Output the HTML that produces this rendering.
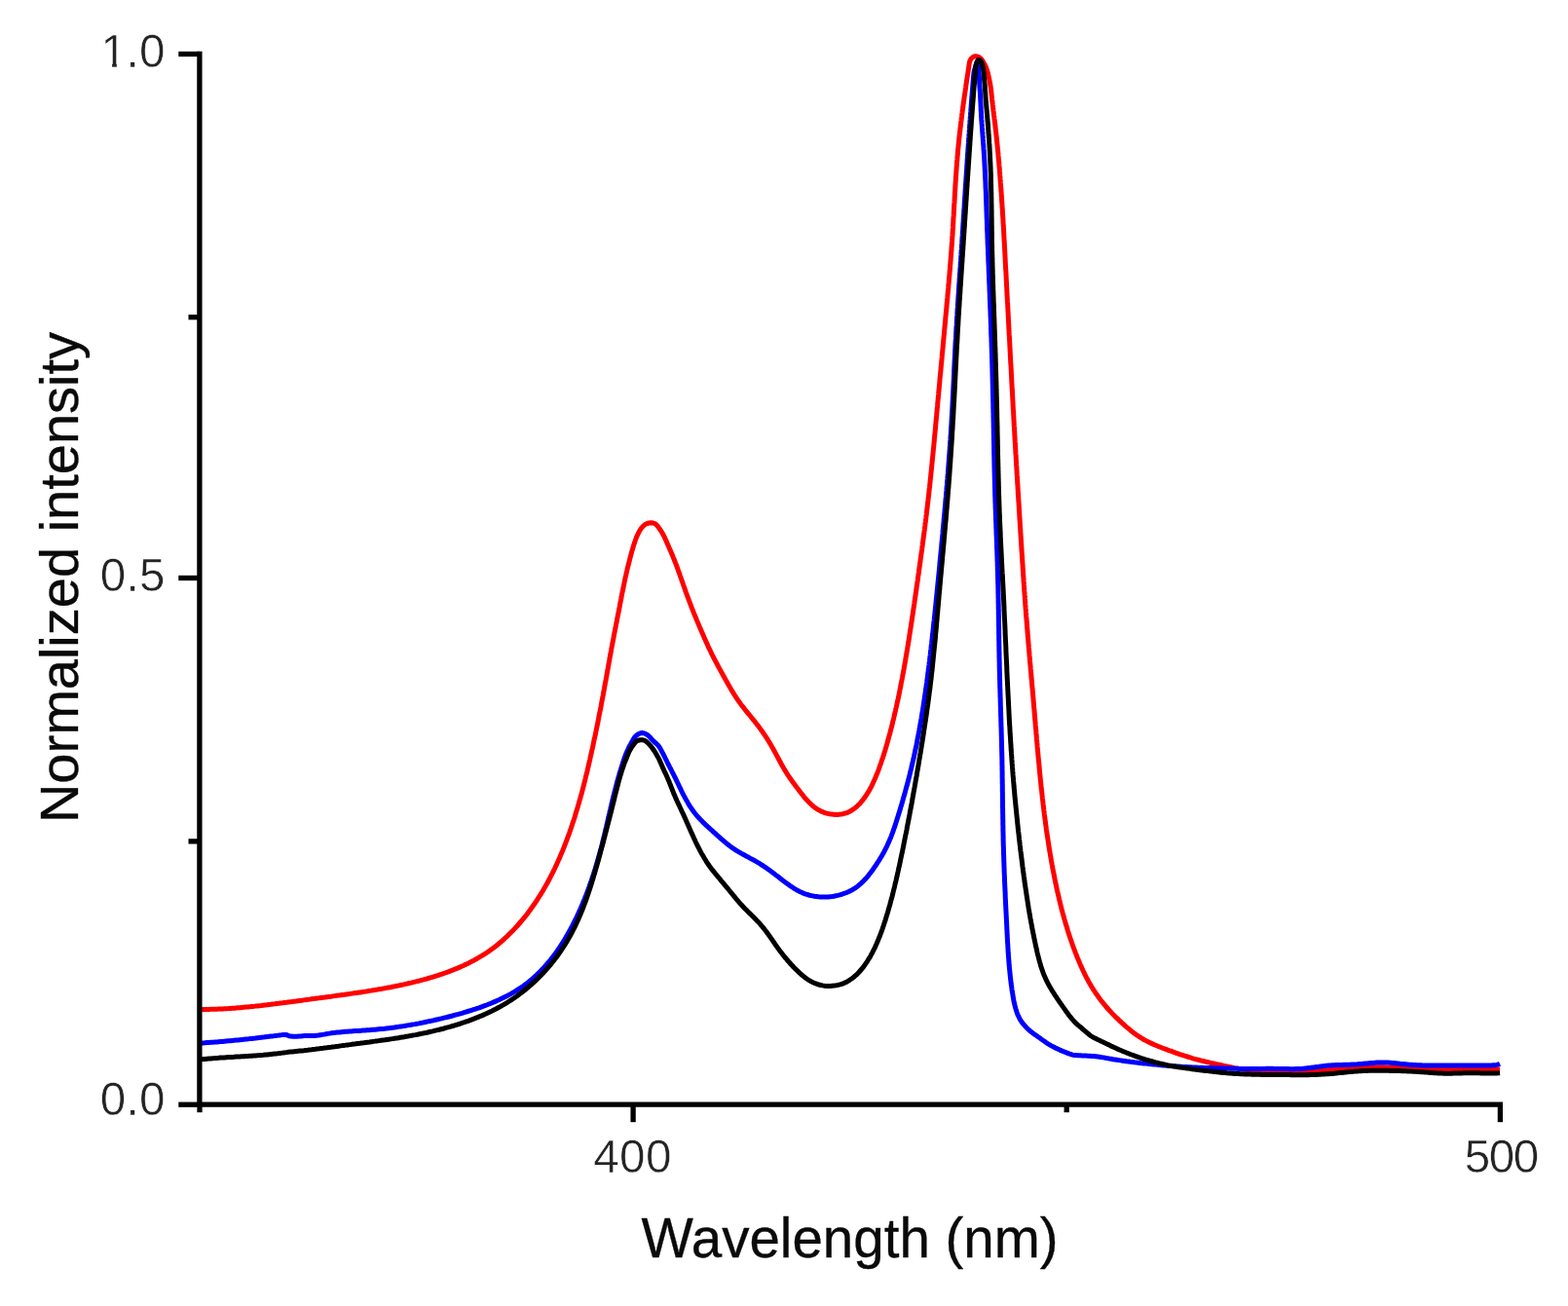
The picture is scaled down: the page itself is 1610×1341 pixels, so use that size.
<!DOCTYPE html>
<html lang="en"><head><meta charset="utf-8"><title>Normalized intensity vs Wavelength</title>
<style>
html,body{margin:0;padding:0;background:#fff;}
body{width:1610px;height:1341px;overflow:hidden;}
svg{display:block;}
text{font-family:"Liberation Sans",sans-serif;}
.tick{font-size:47.6px;fill:#242424;letter-spacing:0.3px;stroke:#fff;stroke-width:0.5px;}
.title{font-size:56.5px;fill:#0a0a0a;stroke:#0a0a0a;stroke-width:0.35px;}
.ax{stroke:#000;stroke-width:5.3;fill:none;stroke-linecap:butt;}
.c{fill:none;stroke-width:5.0;stroke-linejoin:round;stroke-linecap:butt;}
</style></head><body>
<svg width="1610" height="1341" viewBox="0 0 1610 1341">
<rect width="1610" height="1341" fill="#fff"/>
<g>
<g>
<path class="c" stroke="#ff0000" d="M206.5,1036.4 L208.5,1036.4 L210.5,1036.4 L212.5,1036.4 L214.5,1036.4 L216.5,1036.3 L218.5,1036.3 L220.5,1036.2 L222.5,1036.2 L224.5,1036.1 L226.5,1036.0 L228.5,1035.9 L230.5,1035.8 L232.5,1035.7 L234.5,1035.6 L236.5,1035.4 L238.5,1035.3 L240.5,1035.2 L242.5,1035.0 L244.5,1034.8 L246.4,1034.7 L248.4,1034.5 L250.4,1034.3 L252.4,1034.1 L254.4,1034.0 L256.4,1033.8 L258.4,1033.6 L260.4,1033.4 L262.4,1033.1 L264.4,1032.9 L266.4,1032.7 L268.4,1032.5 L270.4,1032.2 L272.3,1032.0 L274.3,1031.8 L276.3,1031.5 L278.3,1031.3 L280.3,1031.0 L282.3,1030.8 L284.2,1030.5 L286.2,1030.3 L288.2,1030.0 L290.2,1029.8 L292.1,1029.5 L294.1,1029.3 L296.1,1029.0 L298.1,1028.7 L300.0,1028.5 L302.0,1028.2 L304.0,1028.0 L306.0,1027.7 L307.9,1027.4 L309.9,1027.2 L311.9,1026.9 L313.9,1026.6 L315.9,1026.4 L317.9,1026.1 L319.8,1025.8 L321.8,1025.6 L323.8,1025.3 L325.8,1025.0 L327.8,1024.8 L329.8,1024.5 L331.8,1024.2 L333.8,1024.0 L335.8,1023.7 L337.8,1023.4 L339.8,1023.2 L341.8,1022.9 L343.8,1022.6 L345.8,1022.3 L347.8,1022.1 L349.8,1021.8 L351.7,1021.5 L353.7,1021.3 L355.7,1021.0 L357.7,1020.7 L359.7,1020.4 L361.6,1020.1 L363.6,1019.8 L365.6,1019.6 L367.5,1019.3 L369.5,1019.0 L371.5,1018.7 L373.4,1018.4 L375.4,1018.1 L377.4,1017.8 L379.3,1017.4 L381.3,1017.1 L383.2,1016.8 L385.2,1016.5 L387.2,1016.1 L389.1,1015.8 L391.1,1015.5 L393.0,1015.1 L395.0,1014.8 L396.9,1014.4 L398.9,1014.0 L400.8,1013.7 L402.8,1013.3 L404.7,1012.9 L406.7,1012.5 L408.6,1012.1 L410.6,1011.7 L412.5,1011.3 L414.5,1010.9 L416.4,1010.4 L418.4,1010.0 L420.3,1009.5 L422.3,1009.1 L424.2,1008.6 L426.2,1008.1 L428.2,1007.6 L430.1,1007.2 L432.1,1006.6 L434.0,1006.1 L435.9,1005.6 L437.9,1005.1 L439.8,1004.5 L441.8,1003.9 L443.7,1003.4 L445.6,1002.8 L447.6,1002.2 L449.5,1001.6 L451.4,1000.9 L453.3,1000.3 L455.2,999.7 L457.1,999.0 L459.0,998.3 L460.9,997.6 L462.8,996.9 L464.7,996.2 L466.5,995.4 L468.4,994.7 L470.3,993.9 L472.1,993.1 L473.9,992.3 L475.8,991.5 L477.6,990.6 L479.4,989.8 L481.2,988.9 L482.9,988.0 L484.7,987.1 L486.5,986.2 L488.2,985.2 L490.0,984.2 L491.7,983.2 L493.4,982.2 L495.1,981.2 L496.8,980.1 L498.4,979.1 L500.1,978.0 L501.7,976.9 L503.3,975.7 L504.9,974.6 L506.5,973.4 L508.1,972.2 L509.7,971.0 L511.2,969.7 L512.7,968.5 L514.3,967.2 L515.8,965.9 L517.2,964.6 L518.7,963.2 L520.2,961.9 L521.6,960.5 L523.0,959.1 L524.4,957.7 L525.8,956.3 L527.2,954.9 L528.6,953.4 L529.9,952.0 L531.3,950.5 L532.6,949.0 L533.9,947.5 L535.2,946.0 L536.5,944.4 L537.8,942.9 L539.0,941.3 L540.3,939.8 L541.5,938.2 L542.7,936.6 L543.9,935.0 L545.1,933.3 L546.2,931.7 L547.4,930.1 L548.5,928.4 L549.7,926.8 L550.8,925.1 L551.9,923.4 L553.0,921.7 L554.0,920.0 L555.1,918.3 L556.2,916.6 L557.2,914.9 L558.2,913.2 L559.2,911.4 L560.2,909.7 L561.2,908.0 L562.2,906.2 L563.1,904.5 L564.1,902.7 L565.0,900.9 L565.9,899.1 L566.8,897.4 L567.7,895.6 L568.6,893.8 L569.5,892.0 L570.3,890.2 L571.2,888.4 L572.0,886.6 L572.8,884.8 L573.6,882.9 L574.5,881.1 L575.2,879.3 L576.0,877.4 L576.8,875.6 L577.6,873.7 L578.3,871.9 L579.1,870.0 L579.8,868.2 L580.5,866.3 L581.2,864.5 L581.9,862.6 L582.6,860.7 L583.3,858.8 L584.0,857.0 L584.7,855.1 L585.3,853.2 L586.0,851.3 L586.6,849.4 L587.3,847.5 L587.9,845.6 L588.5,843.7 L589.2,841.8 L589.8,839.9 L590.4,838.0 L591.0,836.1 L591.5,834.2 L592.1,832.3 L592.7,830.4 L593.3,828.5 L593.8,826.5 L594.4,824.6 L594.9,822.7 L595.5,820.8 L596.0,818.9 L596.5,816.9 L597.1,815.0 L597.6,813.1 L598.1,811.2 L598.6,809.2 L599.1,807.3 L599.6,805.4 L600.1,803.4 L600.6,801.5 L601.1,799.5 L601.5,797.6 L602.0,795.7 L602.5,793.7 L603.0,791.8 L603.4,789.8 L603.9,787.9 L604.3,785.9 L604.8,784.0 L605.2,782.0 L605.7,780.1 L606.1,778.1 L606.5,776.2 L607.0,774.2 L607.4,772.3 L607.8,770.3 L608.3,768.4 L608.7,766.4 L609.1,764.5 L609.5,762.5 L609.9,760.5 L610.3,758.6 L610.8,756.6 L611.2,754.7 L611.6,752.7 L612.0,750.8 L612.4,748.8 L612.8,746.8 L613.2,744.9 L613.6,742.9 L614.0,740.9 L614.4,739.0 L614.7,737.0 L615.1,735.1 L615.5,733.1 L615.9,731.1 L616.3,729.2 L616.7,727.2 L617.1,725.2 L617.4,723.3 L617.8,721.3 L618.2,719.3 L618.5,717.4 L618.9,715.4 L619.3,713.4 L619.6,711.5 L620.0,709.5 L620.4,707.5 L620.7,705.6 L621.1,703.6 L621.4,701.6 L621.8,699.7 L622.2,697.7 L622.5,695.7 L622.9,693.8 L623.2,691.8 L623.6,689.8 L623.9,687.9 L624.3,685.9 L624.6,683.9 L625.0,682.0 L625.3,680.0 L625.7,678.0 L626.0,676.1 L626.4,674.1 L626.8,672.1 L627.1,670.2 L627.5,668.2 L627.8,666.2 L628.2,664.3 L628.6,662.3 L628.9,660.3 L629.3,658.4 L629.7,656.4 L630.1,654.4 L630.4,652.5 L630.8,650.5 L631.2,648.5 L631.6,646.6 L632.0,644.6 L632.3,642.7 L632.7,640.7 L633.1,638.7 L633.5,636.8 L633.9,634.8 L634.2,632.8 L634.6,630.9 L635.0,628.9 L635.4,627.0 L635.8,625.0 L636.2,623.0 L636.5,621.1 L636.9,619.1 L637.3,617.1 L637.7,615.2 L638.0,613.2 L638.4,611.2 L638.8,609.3 L639.2,607.3 L639.6,605.4 L640.0,603.4 L640.4,601.4 L640.8,599.5 L641.2,597.5 L641.6,595.6 L642.0,593.6 L642.5,591.7 L642.9,589.7 L643.3,587.8 L643.8,585.8 L644.2,583.9 L644.7,581.9 L645.2,580.0 L645.7,578.0 L646.2,576.1 L646.7,574.2 L647.2,572.2 L647.7,570.3 L648.2,568.4 L648.7,566.4 L649.3,564.5 L649.9,562.6 L650.4,560.7 L651.0,558.8 L651.7,556.9 L652.3,555.0 L653.0,553.1 L653.7,551.2 L654.5,549.4 L655.4,547.6 L656.3,545.8 L657.3,544.1 L658.4,542.4 L659.7,540.9 L661.1,539.5 L662.8,538.3 L664.6,537.5 L666.5,536.9 L668.4,536.7 L670.5,537.0 L672.3,537.6 L673.9,538.8 L675.3,540.3 L676.5,541.9 L677.6,543.5 L678.7,545.2 L679.8,546.9 L680.8,548.6 L681.7,550.4 L682.6,552.2 L683.4,554.0 L684.2,555.8 L685.0,557.7 L685.8,559.5 L686.6,561.3 L687.4,563.2 L688.2,565.0 L689.0,566.8 L689.8,568.7 L690.6,570.5 L691.3,572.4 L692.1,574.2 L692.8,576.1 L693.5,577.9 L694.3,579.8 L695.0,581.7 L695.7,583.6 L696.3,585.4 L697.0,587.3 L697.7,589.2 L698.3,591.1 L699.0,593.0 L699.7,594.9 L700.3,596.7 L701.0,598.6 L701.6,600.5 L702.3,602.4 L703.0,604.3 L703.6,606.2 L704.3,608.1 L705.0,610.0 L705.7,611.8 L706.4,613.7 L707.1,615.6 L707.8,617.5 L708.5,619.3 L709.2,621.2 L709.9,623.1 L710.6,624.9 L711.4,626.8 L712.1,628.6 L712.8,630.5 L713.6,632.3 L714.4,634.2 L715.1,636.0 L715.9,637.9 L716.7,639.7 L717.5,641.6 L718.2,643.4 L719.0,645.3 L719.8,647.1 L720.6,648.9 L721.4,650.8 L722.2,652.6 L723.0,654.4 L723.8,656.3 L724.6,658.1 L725.4,659.9 L726.3,661.7 L727.1,663.6 L727.9,665.4 L728.8,667.2 L729.7,669.0 L730.5,670.8 L731.4,672.6 L732.3,674.3 L733.2,676.1 L734.1,677.9 L735.1,679.7 L736.0,681.4 L736.9,683.2 L737.9,685.0 L738.8,686.7 L739.8,688.5 L740.8,690.2 L741.7,692.0 L742.7,693.7 L743.7,695.5 L744.6,697.2 L745.6,699.0 L746.6,700.7 L747.6,702.5 L748.6,704.2 L749.6,705.9 L750.6,707.7 L751.6,709.4 L752.7,711.1 L753.7,712.8 L754.8,714.5 L755.9,716.1 L757.0,717.8 L758.1,719.5 L759.3,721.1 L760.4,722.7 L761.6,724.3 L762.9,725.9 L764.1,727.4 L765.3,729.0 L766.6,730.6 L767.8,732.1 L769.1,733.7 L770.4,735.2 L771.6,736.8 L772.9,738.3 L774.2,739.9 L775.4,741.4 L776.6,743.0 L777.9,744.6 L779.1,746.2 L780.3,747.8 L781.4,749.4 L782.6,751.0 L783.8,752.7 L784.9,754.3 L786.0,756.0 L787.1,757.6 L788.2,759.3 L789.2,761.0 L790.3,762.7 L791.3,764.4 L792.3,766.2 L793.3,767.9 L794.3,769.7 L795.2,771.4 L796.2,773.2 L797.1,775.0 L798.1,776.7 L799.0,778.5 L800.0,780.3 L800.9,782.0 L801.9,783.8 L802.8,785.6 L803.8,787.3 L804.8,789.0 L805.8,790.7 L806.9,792.4 L807.9,794.1 L809.0,795.8 L810.1,797.4 L811.2,799.1 L812.4,800.7 L813.5,802.3 L814.7,803.9 L815.9,805.5 L817.1,807.2 L818.3,808.8 L819.5,810.3 L820.7,811.9 L821.9,813.5 L823.2,815.1 L824.4,816.7 L825.7,818.3 L827.0,819.8 L828.3,821.3 L829.7,822.8 L831.1,824.2 L832.5,825.6 L834.0,827.0 L835.5,828.2 L837.1,829.4 L838.7,830.6 L840.4,831.6 L842.2,832.5 L844.0,833.4 L845.8,834.1 L847.8,834.8 L849.7,835.3 L851.7,835.8 L853.7,836.1 L855.7,836.3 L857.7,836.5 L859.7,836.5 L861.7,836.3 L863.7,836.1 L865.6,835.7 L867.5,835.2 L869.4,834.6 L871.2,833.9 L872.9,833.0 L874.6,832.0 L876.2,830.9 L877.8,829.7 L879.3,828.5 L880.8,827.1 L882.2,825.7 L883.6,824.2 L884.9,822.7 L886.2,821.1 L887.4,819.5 L888.6,817.8 L889.7,816.1 L890.8,814.4 L891.9,812.7 L892.9,811.0 L893.8,809.2 L894.8,807.4 L895.6,805.7 L896.5,803.9 L897.3,802.0 L898.1,800.2 L898.9,798.4 L899.7,796.6 L900.4,794.7 L901.2,792.9 L901.9,791.0 L902.6,789.1 L903.2,787.2 L903.9,785.4 L904.6,783.5 L905.2,781.6 L905.8,779.7 L906.5,777.8 L907.1,775.9 L907.7,774.0 L908.3,772.1 L908.9,770.2 L909.4,768.3 L910.0,766.4 L910.6,764.4 L911.1,762.5 L911.7,760.6 L912.2,758.7 L912.7,756.7 L913.2,754.8 L913.8,752.9 L914.3,750.9 L914.8,749.0 L915.3,747.1 L915.8,745.1 L916.3,743.2 L916.7,741.2 L917.2,739.3 L917.7,737.3 L918.1,735.4 L918.6,733.5 L919.0,731.5 L919.5,729.6 L919.9,727.6 L920.4,725.6 L920.8,723.7 L921.2,721.7 L921.6,719.8 L922.1,717.8 L922.5,715.9 L922.9,713.9 L923.3,712.0 L923.7,710.0 L924.1,708.0 L924.5,706.1 L924.9,704.1 L925.2,702.1 L925.6,700.2 L926.0,698.2 L926.4,696.2 L926.7,694.3 L927.1,692.3 L927.5,690.3 L927.8,688.4 L928.2,686.4 L928.5,684.4 L928.9,682.5 L929.2,680.5 L929.6,678.5 L929.9,676.6 L930.2,674.6 L930.6,672.6 L930.9,670.6 L931.2,668.7 L931.6,666.7 L931.9,664.7 L932.2,662.8 L932.5,660.8 L932.9,658.8 L933.2,656.8 L933.5,654.9 L933.8,652.9 L934.1,650.9 L934.4,648.9 L934.7,647.0 L935.0,645.0 L935.3,643.0 L935.6,641.0 L935.9,639.1 L936.2,637.1 L936.5,635.1 L936.8,633.1 L937.1,631.1 L937.4,629.2 L937.7,627.2 L938.0,625.2 L938.3,623.2 L938.6,621.2 L938.9,619.3 L939.1,617.3 L939.4,615.3 L939.7,613.3 L940.0,611.4 L940.3,609.4 L940.6,607.4 L940.9,605.4 L941.1,603.4 L941.4,601.5 L941.7,599.5 L942.0,597.5 L942.3,595.5 L942.5,593.5 L942.8,591.5 L943.1,589.6 L943.4,587.6 L943.6,585.6 L943.9,583.6 L944.2,581.6 L944.5,579.7 L944.8,577.7 L945.0,575.7 L945.3,573.7 L945.6,571.7 L945.8,569.8 L946.1,567.8 L946.4,565.8 L946.7,563.8 L946.9,561.8 L947.2,559.8 L947.4,557.9 L947.7,555.9 L948.0,553.9 L948.2,551.9 L948.5,549.9 L948.8,548.0 L949.0,546.0 L949.3,544.0 L949.5,542.0 L949.8,540.0 L950.0,538.0 L950.3,536.0 L950.5,534.1 L950.8,532.1 L951.0,530.1 L951.3,528.1 L951.5,526.1 L951.7,524.1 L952.0,522.2 L952.2,520.2 L952.4,518.2 L952.7,516.2 L952.9,514.2 L953.1,512.2 L953.4,510.2 L953.6,508.2 L953.8,506.3 L954.0,504.3 L954.2,502.3 L954.5,500.3 L954.7,498.3 L954.9,496.3 L955.1,494.3 L955.3,492.3 L955.5,490.4 L955.7,488.4 L955.9,486.4 L956.1,484.4 L956.3,482.4 L956.5,480.4 L956.7,478.4 L956.9,476.4 L957.1,474.4 L957.3,472.4 L957.5,470.5 L957.7,468.5 L957.9,466.5 L958.1,464.5 L958.3,462.5 L958.5,460.5 L958.7,458.5 L958.9,456.5 L959.1,454.5 L959.3,452.5 L959.4,450.5 L959.6,448.6 L959.8,446.6 L960.0,444.6 L960.2,442.6 L960.4,440.6 L960.6,438.6 L960.7,436.6 L960.9,434.6 L961.1,432.6 L961.3,430.6 L961.5,428.6 L961.7,426.6 L961.8,424.7 L962.0,422.7 L962.2,420.7 L962.4,418.7 L962.6,416.7 L962.7,414.7 L962.9,412.7 L963.1,410.7 L963.3,408.7 L963.5,406.7 L963.7,404.7 L963.8,402.7 L964.0,400.8 L964.2,398.8 L964.4,396.8 L964.6,394.8 L964.8,392.8 L964.9,390.8 L965.1,388.8 L965.3,386.8 L965.5,384.8 L965.7,382.8 L965.9,380.8 L966.1,378.8 L966.2,376.9 L966.4,374.9 L966.6,372.9 L966.8,370.9 L967.0,368.9 L967.2,366.9 L967.3,364.9 L967.5,362.9 L967.7,360.9 L967.9,358.9 L968.1,356.9 L968.3,355.0 L968.4,353.0 L968.6,351.0 L968.8,349.0 L969.0,347.0 L969.2,345.0 L969.4,343.0 L969.6,341.0 L969.7,339.0 L969.9,337.0 L970.1,335.0 L970.3,333.0 L970.5,331.1 L970.7,329.1 L970.8,327.1 L971.0,325.1 L971.2,323.1 L971.4,321.1 L971.6,319.1 L971.8,317.1 L972.0,315.1 L972.1,313.1 L972.3,311.1 L972.5,309.1 L972.7,307.2 L972.9,305.2 L973.0,303.2 L973.2,301.2 L973.4,299.2 L973.6,297.2 L973.8,295.2 L973.9,293.2 L974.1,291.2 L974.3,289.2 L974.4,287.2 L974.6,285.2 L974.8,283.2 L975.0,281.3 L975.1,279.3 L975.3,277.3 L975.5,275.3 L975.6,273.3 L975.8,271.3 L975.9,269.3 L976.1,267.3 L976.2,265.3 L976.4,263.3 L976.6,261.3 L976.7,259.3 L976.9,257.3 L977.0,255.3 L977.1,253.3 L977.3,251.3 L977.4,249.4 L977.6,247.4 L977.7,245.4 L977.8,243.4 L978.0,241.4 L978.1,239.4 L978.2,237.4 L978.3,235.4 L978.5,233.4 L978.6,231.4 L978.7,229.4 L978.8,227.4 L978.9,225.4 L979.0,223.4 L979.2,221.4 L979.3,219.4 L979.4,217.4 L979.5,215.4 L979.6,213.4 L979.7,211.4 L979.8,209.4 L980.0,207.4 L980.1,205.4 L980.2,203.4 L980.3,201.4 L980.4,199.4 L980.5,197.5 L980.7,195.5 L980.8,193.5 L980.9,191.5 L981.0,189.5 L981.1,187.5 L981.3,185.5 L981.4,183.5 L981.5,181.5 L981.7,179.5 L981.8,177.5 L981.9,175.5 L982.1,173.5 L982.2,171.5 L982.4,169.5 L982.5,167.5 L982.7,165.5 L982.9,163.5 L983.0,161.6 L983.2,159.6 L983.4,157.6 L983.5,155.6 L983.7,153.6 L983.9,151.6 L984.1,149.6 L984.3,147.6 L984.5,145.6 L984.7,143.6 L984.9,141.6 L985.1,139.7 L985.3,137.7 L985.6,135.7 L985.8,133.7 L986.0,131.7 L986.3,129.7 L986.5,127.7 L986.7,125.7 L987.0,123.8 L987.2,121.8 L987.5,119.8 L987.7,117.8 L988.0,115.8 L988.2,113.8 L988.5,111.9 L988.8,109.9 L989.0,107.9 L989.3,105.9 L989.6,103.9 L989.9,102.0 L990.1,100.0 L990.4,98.0 L990.7,96.0 L991.0,94.0 L991.3,92.1 L991.6,90.1 L991.8,88.1 L992.1,86.1 L992.4,84.2 L992.7,82.2 L993.0,80.2 L993.3,78.2 L993.6,76.3 L993.9,74.3 L994.2,72.3 L994.5,70.3 L994.8,68.4 L995.1,66.4 L995.4,64.4 L995.9,62.5 L996.9,60.6 L998.5,59.0 L1000.2,57.9 L1001.9,57.7 L1003.8,58.1 L1005.7,59.0 L1007.3,60.2 L1008.5,61.8 L1009.5,63.5 L1010.5,65.2 L1011.5,67.0 L1012.3,68.8 L1013.0,70.7 L1013.6,72.6 L1014.2,74.5 L1014.7,76.4 L1015.1,78.4 L1015.5,80.3 L1015.9,82.3 L1016.3,84.3 L1016.7,86.2 L1017.0,88.2 L1017.3,90.2 L1017.6,92.2 L1017.8,94.2 L1018.0,96.1 L1018.2,98.1 L1018.4,100.1 L1018.6,102.1 L1018.9,104.1 L1019.1,106.1 L1019.3,108.1 L1019.6,110.1 L1019.8,112.0 L1020.0,114.0 L1020.3,116.0 L1020.5,118.0 L1020.8,120.0 L1021.0,122.0 L1021.3,124.0 L1021.5,125.9 L1021.8,127.9 L1022.0,129.9 L1022.2,131.9 L1022.4,133.9 L1022.7,135.9 L1022.9,137.9 L1023.1,139.8 L1023.3,141.8 L1023.5,143.8 L1023.7,145.8 L1023.9,147.8 L1024.1,149.8 L1024.3,151.8 L1024.5,153.8 L1024.7,155.8 L1024.9,157.8 L1025.0,159.7 L1025.2,161.7 L1025.4,163.7 L1025.6,165.7 L1025.8,167.7 L1025.9,169.7 L1026.1,171.7 L1026.3,173.7 L1026.4,175.7 L1026.6,177.7 L1026.7,179.7 L1026.9,181.7 L1027.0,183.7 L1027.2,185.7 L1027.3,187.7 L1027.5,189.7 L1027.6,191.6 L1027.8,193.6 L1027.9,195.6 L1028.1,197.6 L1028.2,199.6 L1028.3,201.6 L1028.5,203.6 L1028.6,205.6 L1028.7,207.6 L1028.9,209.6 L1029.0,211.6 L1029.1,213.6 L1029.3,215.6 L1029.4,217.6 L1029.5,219.6 L1029.6,221.6 L1029.8,223.6 L1029.9,225.6 L1030.0,227.6 L1030.1,229.6 L1030.2,231.6 L1030.4,233.6 L1030.5,235.6 L1030.6,237.5 L1030.7,239.5 L1030.8,241.5 L1030.9,243.5 L1031.0,245.5 L1031.1,247.5 L1031.3,249.5 L1031.4,251.5 L1031.5,253.5 L1031.6,255.5 L1031.7,257.5 L1031.8,259.5 L1031.9,261.5 L1032.0,263.5 L1032.1,265.5 L1032.2,267.5 L1032.3,269.5 L1032.4,271.5 L1032.5,273.5 L1032.6,275.5 L1032.8,277.5 L1032.9,279.5 L1033.0,281.5 L1033.1,283.5 L1033.2,285.5 L1033.3,287.5 L1033.4,289.5 L1033.5,291.5 L1033.6,293.5 L1033.7,295.5 L1033.8,297.5 L1033.9,299.5 L1034.0,301.5 L1034.1,303.4 L1034.2,305.4 L1034.3,307.4 L1034.4,309.4 L1034.6,311.4 L1034.7,313.4 L1034.8,315.4 L1034.9,317.4 L1035.0,319.4 L1035.1,321.4 L1035.2,323.4 L1035.3,325.4 L1035.4,327.4 L1035.5,329.4 L1035.6,331.4 L1035.7,333.4 L1035.8,335.4 L1035.9,337.4 L1036.0,339.4 L1036.1,341.4 L1036.2,343.4 L1036.4,345.4 L1036.5,347.4 L1036.6,349.4 L1036.7,351.4 L1036.8,353.4 L1036.9,355.4 L1037.0,357.4 L1037.1,359.4 L1037.2,361.4 L1037.3,363.4 L1037.4,365.4 L1037.5,367.4 L1037.6,369.3 L1037.7,371.3 L1037.8,373.3 L1038.0,375.3 L1038.1,377.3 L1038.2,379.3 L1038.3,381.3 L1038.4,383.3 L1038.5,385.3 L1038.6,387.3 L1038.7,389.3 L1038.8,391.3 L1038.9,393.3 L1039.0,395.3 L1039.1,397.3 L1039.2,399.3 L1039.4,401.3 L1039.5,403.3 L1039.6,405.3 L1039.7,407.3 L1039.8,409.3 L1039.9,411.3 L1040.0,413.3 L1040.1,415.3 L1040.2,417.3 L1040.3,419.3 L1040.4,421.3 L1040.6,423.3 L1040.7,425.3 L1040.8,427.3 L1040.9,429.3 L1041.0,431.3 L1041.1,433.3 L1041.2,435.3 L1041.3,437.2 L1041.5,439.2 L1041.6,441.2 L1041.7,443.2 L1041.8,445.2 L1041.9,447.2 L1042.0,449.2 L1042.1,451.2 L1042.2,453.2 L1042.4,455.2 L1042.5,457.2 L1042.6,459.2 L1042.7,461.2 L1042.8,463.2 L1042.9,465.2 L1043.1,467.2 L1043.2,469.2 L1043.3,471.2 L1043.4,473.2 L1043.5,475.2 L1043.6,477.2 L1043.8,479.2 L1043.9,481.2 L1044.0,483.2 L1044.1,485.2 L1044.2,487.2 L1044.4,489.2 L1044.5,491.2 L1044.6,493.1 L1044.7,495.1 L1044.8,497.1 L1045.0,499.1 L1045.1,501.1 L1045.2,503.1 L1045.3,505.1 L1045.4,507.1 L1045.6,509.1 L1045.7,511.1 L1045.8,513.1 L1045.9,515.1 L1046.1,517.1 L1046.2,519.1 L1046.3,521.1 L1046.4,523.1 L1046.5,525.1 L1046.7,527.1 L1046.8,529.1 L1046.9,531.1 L1047.0,533.1 L1047.2,535.1 L1047.3,537.1 L1047.4,539.1 L1047.5,541.1 L1047.7,543.1 L1047.8,545.0 L1047.9,547.0 L1048.0,549.0 L1048.2,551.0 L1048.3,553.0 L1048.4,555.0 L1048.5,557.0 L1048.7,559.0 L1048.8,561.0 L1048.9,563.0 L1049.0,565.0 L1049.2,567.0 L1049.3,569.0 L1049.4,571.0 L1049.6,573.0 L1049.7,575.0 L1049.8,577.0 L1050.0,579.0 L1050.1,581.0 L1050.2,583.0 L1050.3,585.0 L1050.5,587.0 L1050.6,589.0 L1050.7,591.0 L1050.9,593.0 L1051.0,595.0 L1051.1,596.9 L1051.3,598.9 L1051.4,600.9 L1051.6,602.9 L1051.7,604.9 L1051.8,606.9 L1052.0,608.9 L1052.1,610.9 L1052.3,612.9 L1052.4,614.9 L1052.6,616.9 L1052.7,618.9 L1052.8,620.9 L1053.0,622.9 L1053.1,624.9 L1053.3,626.9 L1053.4,628.9 L1053.6,630.9 L1053.7,632.9 L1053.9,634.8 L1054.1,636.8 L1054.2,638.8 L1054.4,640.8 L1054.5,642.8 L1054.7,644.8 L1054.9,646.8 L1055.0,648.8 L1055.2,650.8 L1055.3,652.8 L1055.5,654.8 L1055.7,656.8 L1055.8,658.8 L1056.0,660.8 L1056.2,662.7 L1056.3,664.7 L1056.5,666.7 L1056.7,668.7 L1056.9,670.7 L1057.0,672.7 L1057.2,674.7 L1057.4,676.7 L1057.5,678.7 L1057.7,680.7 L1057.9,682.7 L1058.1,684.7 L1058.2,686.7 L1058.4,688.6 L1058.6,690.6 L1058.8,692.6 L1058.9,694.6 L1059.1,696.6 L1059.3,698.6 L1059.5,700.6 L1059.6,702.6 L1059.8,704.6 L1060.0,706.6 L1060.2,708.6 L1060.3,710.6 L1060.5,712.6 L1060.7,714.5 L1060.9,716.5 L1061.0,718.5 L1061.2,720.5 L1061.4,722.5 L1061.5,724.5 L1061.7,726.5 L1061.9,728.5 L1062.1,730.5 L1062.2,732.5 L1062.4,734.5 L1062.6,736.5 L1062.7,738.5 L1062.9,740.5 L1063.1,742.4 L1063.2,744.4 L1063.4,746.4 L1063.6,748.4 L1063.8,750.4 L1063.9,752.4 L1064.1,754.4 L1064.3,756.4 L1064.4,758.4 L1064.6,760.4 L1064.8,762.4 L1065.0,764.4 L1065.1,766.4 L1065.3,768.4 L1065.5,770.4 L1065.7,772.3 L1065.8,774.3 L1066.0,776.3 L1066.2,778.3 L1066.4,780.3 L1066.6,782.3 L1066.8,784.3 L1067.0,786.3 L1067.1,788.3 L1067.3,790.3 L1067.5,792.3 L1067.7,794.3 L1067.9,796.2 L1068.1,798.2 L1068.3,800.2 L1068.5,802.2 L1068.7,804.2 L1068.9,806.2 L1069.1,808.2 L1069.3,810.2 L1069.6,812.2 L1069.8,814.1 L1070.0,816.1 L1070.2,818.1 L1070.4,820.1 L1070.7,822.1 L1070.9,824.1 L1071.1,826.1 L1071.4,828.0 L1071.6,830.0 L1071.8,832.0 L1072.1,834.0 L1072.3,836.0 L1072.6,838.0 L1072.8,839.9 L1073.1,841.9 L1073.4,843.9 L1073.6,845.9 L1073.9,847.9 L1074.2,849.9 L1074.4,851.8 L1074.7,853.8 L1075.0,855.8 L1075.3,857.8 L1075.6,859.7 L1075.9,861.7 L1076.2,863.7 L1076.5,865.7 L1076.8,867.6 L1077.1,869.6 L1077.4,871.6 L1077.7,873.6 L1078.1,875.5 L1078.4,877.5 L1078.7,879.5 L1079.1,881.4 L1079.4,883.4 L1079.8,885.4 L1080.1,887.4 L1080.5,889.3 L1080.8,891.3 L1081.2,893.3 L1081.6,895.2 L1082.0,897.2 L1082.4,899.1 L1082.7,901.1 L1083.1,903.1 L1083.5,905.0 L1083.9,907.0 L1084.4,908.9 L1084.8,910.9 L1085.2,912.9 L1085.6,914.8 L1086.1,916.8 L1086.5,918.7 L1087.0,920.7 L1087.4,922.6 L1087.9,924.6 L1088.4,926.5 L1088.8,928.5 L1089.3,930.4 L1089.8,932.3 L1090.3,934.3 L1090.8,936.2 L1091.3,938.2 L1091.9,940.1 L1092.4,942.0 L1092.9,943.9 L1093.5,945.9 L1094.0,947.8 L1094.6,949.7 L1095.2,951.6 L1095.8,953.5 L1096.3,955.4 L1096.9,957.4 L1097.6,959.3 L1098.2,961.2 L1098.8,963.1 L1099.5,964.9 L1100.1,966.8 L1100.8,968.7 L1101.4,970.6 L1102.1,972.5 L1102.8,974.4 L1103.5,976.2 L1104.2,978.1 L1105.0,980.0 L1105.7,981.8 L1106.4,983.7 L1107.2,985.5 L1108.0,987.4 L1108.7,989.2 L1109.5,991.0 L1110.4,992.9 L1111.2,994.7 L1112.0,996.5 L1112.9,998.3 L1113.7,1000.1 L1114.6,1001.9 L1115.5,1003.7 L1116.5,1005.4 L1117.4,1007.2 L1118.4,1009.0 L1119.4,1010.7 L1120.4,1012.4 L1121.4,1014.1 L1122.5,1015.8 L1123.6,1017.5 L1124.7,1019.2 L1125.8,1020.8 L1127.0,1022.4 L1128.1,1024.1 L1129.3,1025.7 L1130.5,1027.3 L1131.8,1028.8 L1133.0,1030.4 L1134.3,1031.9 L1135.6,1033.5 L1136.9,1035.0 L1138.2,1036.5 L1139.6,1038.0 L1140.9,1039.4 L1142.3,1040.9 L1143.7,1042.3 L1145.1,1043.7 L1146.5,1045.2 L1148.0,1046.5 L1149.4,1047.9 L1150.9,1049.3 L1152.3,1050.6 L1153.8,1052.0 L1155.3,1053.3 L1156.8,1054.6 L1158.4,1055.9 L1159.9,1057.2 L1161.4,1058.5 L1163.0,1059.7 L1164.6,1060.9 L1166.2,1062.1 L1167.8,1063.2 L1169.5,1064.3 L1171.2,1065.4 L1172.9,1066.5 L1174.6,1067.5 L1176.3,1068.4 L1178.1,1069.4 L1179.9,1070.2 L1181.7,1071.1 L1183.5,1071.9 L1185.3,1072.7 L1187.2,1073.5 L1189.0,1074.3 L1190.9,1075.0 L1192.8,1075.8 L1194.6,1076.5 L1196.5,1077.2 L1198.4,1077.9 L1200.3,1078.6 L1202.2,1079.2 L1204.0,1079.9 L1205.9,1080.6 L1207.8,1081.3 L1209.7,1081.9 L1211.6,1082.6 L1213.5,1083.2 L1215.4,1083.8 L1217.3,1084.4 L1219.2,1085.0 L1221.1,1085.6 L1223.0,1086.2 L1224.9,1086.8 L1226.8,1087.3 L1228.7,1087.8 L1230.7,1088.3 L1232.6,1088.8 L1234.5,1089.3 L1236.5,1089.8 L1238.4,1090.3 L1240.4,1090.7 L1242.3,1091.2 L1244.3,1091.6 L1246.3,1092.0 L1248.2,1092.5 L1250.2,1092.9 L1252.1,1093.3 L1254.1,1093.7 L1256.1,1094.2 L1258.0,1094.6 L1260.0,1095.0 L1261.9,1095.4 L1263.9,1095.8 L1265.8,1096.2 L1267.8,1096.6 L1269.8,1096.9 L1271.7,1097.3 L1273.7,1097.6 L1275.7,1097.9 L1277.7,1098.2 L1279.6,1098.5 L1281.6,1098.7 L1283.6,1098.9 L1285.6,1099.1 L1287.6,1099.3 L1289.6,1099.4 L1291.6,1099.6 L1293.6,1099.7 L1295.6,1099.8 L1297.6,1099.9 L1299.6,1100.0 L1301.6,1100.1 L1303.6,1100.1 L1305.6,1100.2 L1307.6,1100.3 L1309.6,1100.3 L1311.6,1100.4 L1313.6,1100.5 L1315.6,1100.5 L1317.6,1100.6 L1319.6,1100.6 L1321.6,1100.7 L1323.6,1100.7 L1325.6,1100.7 L1327.6,1100.7 L1329.6,1100.7 L1331.6,1100.7 L1333.6,1100.6 L1335.6,1100.6 L1337.6,1100.5 L1339.5,1100.4 L1341.5,1100.3 L1343.5,1100.2 L1345.5,1100.1 L1347.5,1100.0 L1349.5,1099.8 L1351.5,1099.7 L1353.5,1099.5 L1355.5,1099.4 L1357.5,1099.2 L1359.5,1099.0 L1361.5,1098.9 L1363.5,1098.7 L1365.5,1098.5 L1367.5,1098.4 L1369.5,1098.2 L1371.5,1098.1 L1373.5,1097.9 L1375.5,1097.8 L1377.4,1097.7 L1379.4,1097.5 L1381.4,1097.4 L1383.4,1097.3 L1385.4,1097.1 L1387.4,1097.0 L1389.4,1096.9 L1391.4,1096.7 L1393.4,1096.6 L1395.4,1096.5 L1397.4,1096.4 L1399.4,1096.3 L1401.4,1096.2 L1403.4,1096.1 L1405.4,1096.0 L1407.4,1095.9 L1409.4,1095.8 L1411.4,1095.8 L1413.4,1095.8 L1415.4,1095.8 L1417.4,1095.8 L1419.4,1095.8 L1421.4,1095.8 L1423.4,1095.9 L1425.4,1096.0 L1427.4,1096.1 L1429.4,1096.2 L1431.4,1096.3 L1433.4,1096.5 L1435.4,1096.6 L1437.4,1096.7 L1439.3,1096.9 L1441.3,1097.0 L1443.3,1097.2 L1445.3,1097.3 L1447.3,1097.4 L1449.3,1097.5 L1451.3,1097.6 L1453.3,1097.7 L1455.3,1097.8 L1457.3,1097.8 L1459.3,1097.9 L1461.3,1097.9 L1463.3,1098.0 L1465.3,1098.0 L1467.3,1098.0 L1469.3,1098.1 L1471.3,1098.1 L1473.3,1098.1 L1475.3,1098.1 L1477.3,1098.1 L1479.3,1098.1 L1481.3,1098.1 L1483.3,1098.1 L1485.3,1098.1 L1487.3,1098.1 L1489.3,1098.1 L1491.3,1098.1 L1493.3,1098.1 L1495.3,1098.1 L1497.3,1098.1 L1499.3,1098.1 L1501.3,1098.1 L1503.3,1098.1 L1505.3,1098.1 L1507.3,1098.1 L1509.3,1098.1 L1511.3,1098.1 L1513.3,1098.1 L1515.3,1098.1 L1517.3,1098.1 L1519.3,1098.1 L1521.3,1098.1 L1523.3,1098.1 L1525.3,1098.1 L1527.3,1098.1 L1529.3,1098.1 L1531.3,1098.1 L1533.3,1098.1 L1535.3,1098.1 L1537.3,1098.1 L1539.3,1098.1 L1540.0,1098.1"/>
<path class="c" stroke="#0000ff" d="M206.6,1071.0 L208.5,1070.9 L210.5,1070.8 L212.5,1070.6 L214.5,1070.5 L216.5,1070.3 L218.5,1070.2 L220.5,1070.0 L222.5,1069.9 L224.4,1069.7 L226.4,1069.5 L228.4,1069.4 L230.4,1069.2 L232.4,1069.0 L234.4,1068.8 L236.4,1068.7 L238.4,1068.5 L240.4,1068.3 L242.4,1068.1 L244.4,1067.9 L246.4,1067.7 L248.4,1067.5 L250.4,1067.3 L252.3,1067.1 L254.3,1066.9 L256.3,1066.6 L258.3,1066.4 L260.3,1066.2 L262.3,1066.0 L264.3,1065.7 L266.3,1065.5 L268.2,1065.3 L270.2,1065.1 L272.2,1064.8 L274.2,1064.6 L276.1,1064.3 L278.1,1064.1 L280.1,1063.9 L282.0,1063.6 L284.0,1063.4 L286.0,1063.1 L287.9,1062.9 L289.9,1062.6 L291.8,1062.4 L293.6,1062.5 L295.3,1063.0 L296.9,1063.7 L298.8,1064.1 L300.8,1064.3 L302.9,1064.3 L304.9,1064.3 L306.9,1064.1 L308.8,1063.9 L310.8,1063.7 L312.7,1063.5 L314.8,1063.5 L316.9,1063.5 L319.0,1063.5 L321.0,1063.5 L323.1,1063.4 L325.1,1063.2 L327.0,1063.0 L328.9,1062.7 L330.9,1062.4 L332.8,1062.1 L334.7,1061.7 L336.6,1061.4 L338.5,1061.1 L340.5,1060.8 L342.4,1060.6 L344.4,1060.3 L346.4,1060.1 L348.4,1059.9 L350.4,1059.7 L352.4,1059.5 L354.4,1059.3 L356.5,1059.2 L358.5,1059.0 L360.5,1058.9 L362.6,1058.7 L364.6,1058.6 L366.7,1058.5 L368.7,1058.4 L370.7,1058.2 L372.8,1058.1 L374.8,1058.0 L376.8,1057.8 L378.9,1057.7 L380.9,1057.5 L382.9,1057.3 L384.9,1057.2 L386.9,1057.0 L388.9,1056.8 L390.9,1056.6 L392.9,1056.4 L394.9,1056.2 L396.8,1055.9 L398.8,1055.7 L400.8,1055.5 L402.7,1055.2 L404.7,1055.0 L406.6,1054.7 L408.6,1054.4 L410.5,1054.1 L412.5,1053.9 L414.4,1053.6 L416.3,1053.3 L418.3,1052.9 L420.2,1052.6 L422.1,1052.3 L424.1,1051.9 L426.0,1051.6 L427.9,1051.2 L429.9,1050.9 L431.8,1050.5 L433.7,1050.1 L435.6,1049.7 L437.5,1049.3 L439.5,1048.9 L441.4,1048.5 L443.3,1048.1 L445.3,1047.7 L447.2,1047.2 L449.1,1046.8 L451.0,1046.3 L453.0,1045.9 L454.9,1045.4 L456.9,1044.9 L458.8,1044.5 L460.7,1044.0 L462.7,1043.5 L464.6,1043.0 L466.6,1042.4 L468.5,1041.9 L470.5,1041.4 L472.5,1040.8 L474.4,1040.3 L476.4,1039.7 L478.3,1039.1 L480.3,1038.5 L482.2,1037.9 L484.2,1037.3 L486.1,1036.7 L488.1,1036.1 L490.0,1035.4 L491.9,1034.8 L493.8,1034.1 L495.8,1033.4 L497.7,1032.7 L499.6,1032.0 L501.5,1031.2 L503.4,1030.5 L505.2,1029.7 L507.1,1028.9 L509.0,1028.1 L510.8,1027.3 L512.7,1026.5 L514.5,1025.6 L516.3,1024.7 L518.1,1023.8 L519.9,1022.9 L521.7,1022.0 L523.4,1021.1 L525.2,1020.1 L526.9,1019.1 L528.6,1018.1 L530.3,1017.0 L532.0,1016.0 L533.6,1014.9 L535.3,1013.8 L536.9,1012.7 L538.5,1011.5 L540.1,1010.4 L541.6,1009.2 L543.2,1008.0 L544.7,1006.7 L546.2,1005.5 L547.7,1004.2 L549.1,1002.9 L550.6,1001.5 L552.0,1000.2 L553.4,998.8 L554.8,997.4 L556.1,996.0 L557.5,994.6 L558.8,993.2 L560.1,991.7 L561.4,990.2 L562.7,988.7 L564.0,987.2 L565.2,985.7 L566.4,984.1 L567.7,982.6 L568.8,981.0 L570.0,979.4 L571.2,977.8 L572.3,976.2 L573.5,974.5 L574.6,972.9 L575.7,971.2 L576.7,969.6 L577.8,967.9 L578.9,966.2 L579.9,964.5 L580.9,962.8 L581.9,961.0 L582.9,959.3 L583.9,957.5 L584.9,955.8 L585.8,954.0 L586.8,952.3 L587.7,950.5 L588.6,948.7 L589.5,946.9 L590.4,945.1 L591.3,943.3 L592.2,941.5 L593.0,939.7 L593.9,937.9 L594.7,936.0 L595.5,934.2 L596.3,932.4 L597.1,930.5 L597.9,928.7 L598.7,926.8 L599.4,925.0 L600.2,923.1 L600.9,921.3 L601.7,919.4 L602.4,917.5 L603.1,915.7 L603.8,913.8 L604.5,911.9 L605.2,910.0 L605.8,908.1 L606.5,906.2 L607.2,904.3 L607.8,902.4 L608.4,900.5 L609.1,898.6 L609.7,896.7 L610.3,894.8 L610.9,892.9 L611.5,891.0 L612.1,889.1 L612.6,887.2 L613.2,885.2 L613.8,883.3 L614.3,881.4 L614.9,879.5 L615.4,877.5 L615.9,875.6 L616.4,873.7 L617.0,871.8 L617.5,869.8 L618.0,867.9 L618.5,866.0 L618.9,864.0 L619.4,862.1 L619.9,860.2 L620.4,858.2 L620.8,856.3 L621.3,854.4 L621.8,852.4 L622.2,850.5 L622.7,848.6 L623.1,846.6 L623.6,844.7 L624.0,842.8 L624.4,840.8 L624.9,838.9 L625.3,837.0 L625.8,835.0 L626.2,833.1 L626.7,831.1 L627.1,829.2 L627.6,827.3 L628.0,825.3 L628.5,823.4 L629.0,821.4 L629.4,819.5 L629.9,817.6 L630.4,815.6 L630.9,813.7 L631.4,811.7 L631.9,809.8 L632.4,807.8 L632.9,805.9 L633.4,803.9 L633.9,802.0 L634.5,800.0 L635.0,798.1 L635.6,796.2 L636.1,794.2 L636.7,792.3 L637.3,790.4 L637.9,788.5 L638.5,786.6 L639.1,784.7 L639.7,782.8 L640.3,780.9 L640.9,779.0 L641.6,777.2 L642.3,775.3 L643.0,773.5 L643.8,771.6 L644.7,769.8 L645.5,767.9 L646.4,766.1 L647.4,764.4 L648.3,762.7 L649.3,760.9 L650.3,759.1 L651.3,757.4 L652.6,755.9 L654.1,754.7 L655.8,753.6 L657.7,752.8 L659.7,752.6 L661.6,753.0 L663.4,753.8 L665.1,754.9 L666.6,756.2 L668.0,757.6 L669.3,759.1 L670.7,760.6 L672.1,762.0 L673.7,763.3 L675.1,764.7 L676.4,766.2 L677.5,767.8 L678.5,769.6 L679.4,771.3 L680.4,773.1 L681.3,774.9 L682.2,776.7 L683.1,778.5 L684.0,780.3 L684.8,782.0 L685.7,783.8 L686.6,785.6 L687.5,787.4 L688.5,789.2 L689.4,791.0 L690.3,792.8 L691.2,794.5 L692.1,796.3 L693.0,798.1 L693.9,799.9 L694.7,801.7 L695.6,803.5 L696.5,805.3 L697.3,807.1 L698.2,808.9 L699.1,810.7 L699.9,812.5 L700.8,814.3 L701.7,816.1 L702.7,817.9 L703.6,819.6 L704.6,821.4 L705.6,823.1 L706.6,824.9 L707.6,826.6 L708.7,828.3 L709.8,829.9 L710.9,831.6 L712.1,833.2 L713.3,834.8 L714.5,836.3 L715.8,837.9 L717.1,839.3 L718.5,840.8 L719.9,842.2 L721.2,843.7 L722.7,845.1 L724.1,846.5 L725.6,847.8 L727.0,849.2 L728.5,850.5 L730.0,851.9 L731.5,853.2 L733.0,854.6 L734.5,855.9 L736.0,857.3 L737.5,858.6 L739.0,860.0 L740.5,861.3 L742.0,862.6 L743.5,863.9 L745.0,865.2 L746.6,866.4 L748.2,867.7 L749.7,868.9 L751.3,870.1 L752.9,871.2 L754.6,872.3 L756.2,873.4 L757.9,874.4 L759.6,875.4 L761.3,876.4 L763.0,877.3 L764.8,878.3 L766.5,879.2 L768.3,880.1 L770.0,881.1 L771.7,882.0 L773.5,882.9 L775.2,883.9 L776.9,884.9 L778.6,885.9 L780.3,886.9 L781.9,888.0 L783.6,889.0 L785.2,890.1 L786.9,891.3 L788.5,892.4 L790.1,893.6 L791.7,894.8 L793.3,895.9 L794.9,897.1 L796.5,898.4 L798.1,899.6 L799.7,900.8 L801.2,902.0 L802.8,903.3 L804.4,904.5 L806.1,905.7 L807.7,906.9 L809.3,908.1 L810.9,909.3 L812.6,910.4 L814.3,911.5 L816.0,912.6 L817.7,913.6 L819.4,914.6 L821.2,915.5 L823.0,916.3 L824.8,917.1 L826.6,917.8 L828.5,918.4 L830.4,919.0 L832.3,919.5 L834.3,919.9 L836.2,920.3 L838.2,920.5 L840.2,920.8 L842.2,920.9 L844.2,921.0 L846.2,921.0 L848.2,921.0 L850.3,920.9 L852.3,920.7 L854.3,920.5 L856.3,920.2 L858.3,919.8 L860.2,919.4 L862.2,918.9 L864.1,918.3 L866.0,917.7 L867.9,917.0 L869.8,916.3 L871.6,915.5 L873.4,914.6 L875.1,913.7 L876.8,912.6 L878.5,911.6 L880.1,910.4 L881.6,909.2 L883.1,907.9 L884.6,906.6 L886.0,905.2 L887.4,903.8 L888.8,902.3 L890.1,900.8 L891.4,899.3 L892.6,897.7 L893.9,896.1 L895.1,894.5 L896.3,892.9 L897.4,891.2 L898.6,889.6 L899.7,887.9 L900.8,886.2 L901.9,884.5 L903.0,882.8 L904.0,881.1 L905.0,879.4 L906.0,877.7 L907.0,875.9 L908.0,874.2 L908.9,872.4 L909.8,870.6 L910.7,868.8 L911.5,867.0 L912.3,865.2 L913.1,863.4 L913.9,861.6 L914.7,859.7 L915.4,857.9 L916.1,856.0 L916.8,854.1 L917.5,852.2 L918.1,850.3 L918.8,848.5 L919.4,846.6 L920.0,844.6 L920.6,842.7 L921.2,840.8 L921.8,838.9 L922.4,837.0 L923.0,835.1 L923.6,833.2 L924.2,831.3 L924.7,829.3 L925.3,827.4 L925.9,825.5 L926.4,823.6 L927.0,821.7 L927.5,819.7 L928.1,817.8 L928.6,815.9 L929.2,814.0 L929.7,812.0 L930.2,810.1 L930.7,808.2 L931.3,806.3 L931.8,804.3 L932.3,802.4 L932.8,800.5 L933.3,798.5 L933.8,796.6 L934.3,794.6 L934.7,792.7 L935.2,790.8 L935.7,788.8 L936.1,786.9 L936.6,784.9 L937.0,783.0 L937.5,781.0 L937.9,779.1 L938.4,777.1 L938.8,775.2 L939.2,773.2 L939.6,771.3 L940.0,769.3 L940.5,767.4 L940.9,765.4 L941.3,763.5 L941.6,761.5 L942.0,759.5 L942.4,757.6 L942.8,755.6 L943.2,753.6 L943.5,751.7 L943.9,749.7 L944.2,747.7 L944.6,745.8 L944.9,743.8 L945.3,741.8 L945.6,739.9 L946.0,737.9 L946.3,735.9 L946.6,733.9 L947.0,732.0 L947.3,730.0 L947.6,728.0 L947.9,726.0 L948.2,724.1 L948.5,722.1 L948.8,720.1 L949.1,718.1 L949.4,716.2 L949.7,714.2 L950.0,712.2 L950.3,710.2 L950.6,708.2 L950.8,706.3 L951.1,704.3 L951.4,702.3 L951.7,700.3 L951.9,698.3 L952.2,696.4 L952.5,694.4 L952.7,692.4 L953.0,690.4 L953.2,688.4 L953.5,686.4 L953.7,684.5 L954.0,682.5 L954.2,680.5 L954.5,678.5 L954.7,676.5 L954.9,674.5 L955.2,672.5 L955.4,670.6 L955.6,668.6 L955.9,666.6 L956.1,664.6 L956.3,662.6 L956.6,660.6 L956.8,658.6 L957.0,656.7 L957.2,654.7 L957.4,652.7 L957.7,650.7 L957.9,648.7 L958.1,646.7 L958.3,644.7 L958.5,642.7 L958.7,640.8 L958.9,638.8 L959.2,636.8 L959.4,634.8 L959.6,632.8 L959.8,630.8 L960.0,628.8 L960.2,626.8 L960.4,624.8 L960.6,622.9 L960.8,620.9 L961.0,618.9 L961.2,616.9 L961.4,614.9 L961.6,612.9 L961.8,610.9 L962.0,608.9 L962.2,606.9 L962.4,604.9 L962.6,603.0 L962.8,601.0 L963.0,599.0 L963.2,597.0 L963.4,595.0 L963.6,593.0 L963.8,591.0 L964.0,589.0 L964.2,587.0 L964.4,585.0 L964.6,583.0 L964.8,581.1 L964.9,579.1 L965.1,577.1 L965.3,575.1 L965.5,573.1 L965.7,571.1 L965.9,569.1 L966.1,567.1 L966.3,565.1 L966.5,563.1 L966.7,561.1 L966.8,559.2 L967.0,557.2 L967.2,555.2 L967.4,553.2 L967.6,551.2 L967.8,549.2 L968.0,547.2 L968.1,545.2 L968.3,543.2 L968.5,541.2 L968.7,539.2 L968.9,537.2 L969.1,535.3 L969.2,533.3 L969.4,531.3 L969.6,529.3 L969.8,527.3 L970.0,525.3 L970.1,523.3 L970.3,521.3 L970.5,519.3 L970.7,517.3 L970.8,515.3 L971.0,513.3 L971.2,511.3 L971.4,509.4 L971.5,507.4 L971.7,505.4 L971.9,503.4 L972.0,501.4 L972.2,499.4 L972.4,497.4 L972.5,495.4 L972.7,493.4 L972.9,491.4 L973.0,489.4 L973.2,487.4 L973.4,485.4 L973.5,483.5 L973.7,481.5 L973.8,479.5 L974.0,477.5 L974.1,475.5 L974.3,473.5 L974.4,471.5 L974.6,469.5 L974.7,467.5 L974.9,465.5 L975.0,463.5 L975.2,461.5 L975.3,459.5 L975.5,457.5 L975.6,455.5 L975.7,453.5 L975.9,451.5 L976.0,449.6 L976.1,447.6 L976.3,445.6 L976.4,443.6 L976.5,441.6 L976.6,439.6 L976.8,437.6 L976.9,435.6 L977.0,433.6 L977.1,431.6 L977.2,429.6 L977.3,427.6 L977.5,425.6 L977.6,423.6 L977.7,421.6 L977.8,419.6 L977.9,417.6 L978.0,415.6 L978.1,413.6 L978.2,411.6 L978.3,409.6 L978.4,407.6 L978.5,405.6 L978.6,403.6 L978.7,401.6 L978.8,399.6 L978.9,397.6 L979.0,395.6 L979.1,393.6 L979.2,391.6 L979.3,389.6 L979.4,387.6 L979.5,385.6 L979.6,383.6 L979.6,381.6 L979.7,379.6 L979.8,377.6 L979.9,375.6 L980.0,373.7 L980.1,371.7 L980.2,369.7 L980.3,367.7 L980.4,365.7 L980.5,363.7 L980.6,361.7 L980.7,359.7 L980.8,357.7 L980.9,355.7 L981.0,353.7 L981.1,351.7 L981.2,349.7 L981.4,347.7 L981.5,345.7 L981.6,343.7 L981.7,341.7 L981.8,339.7 L981.9,337.7 L982.0,335.7 L982.2,333.7 L982.3,331.7 L982.4,329.7 L982.5,327.7 L982.6,325.7 L982.8,323.7 L982.9,321.7 L983.0,319.7 L983.1,317.7 L983.3,315.7 L983.4,313.8 L983.5,311.8 L983.7,309.8 L983.8,307.8 L983.9,305.8 L984.0,303.8 L984.2,301.8 L984.3,299.8 L984.4,297.8 L984.6,295.8 L984.7,293.8 L984.8,291.8 L985.0,289.8 L985.1,287.8 L985.2,285.8 L985.4,283.8 L985.5,281.8 L985.7,279.8 L985.8,277.9 L985.9,275.9 L986.1,273.9 L986.2,271.9 L986.3,269.9 L986.5,267.9 L986.6,265.9 L986.7,263.9 L986.9,261.9 L987.0,259.9 L987.1,257.9 L987.3,255.9 L987.4,253.9 L987.5,251.9 L987.7,249.9 L987.8,247.9 L987.9,245.9 L988.0,243.9 L988.2,241.9 L988.3,239.9 L988.4,238.0 L988.6,236.0 L988.7,234.0 L988.8,232.0 L988.9,230.0 L989.1,228.0 L989.2,226.0 L989.3,224.0 L989.5,222.0 L989.6,220.0 L989.7,218.0 L989.8,216.0 L990.0,214.0 L990.1,212.0 L990.2,210.0 L990.3,208.0 L990.5,206.0 L990.6,204.0 L990.7,202.0 L990.9,200.0 L991.0,198.0 L991.1,196.0 L991.2,194.0 L991.4,192.1 L991.5,190.1 L991.6,188.1 L991.8,186.1 L991.9,184.1 L992.0,182.1 L992.2,180.1 L992.3,178.1 L992.4,176.1 L992.6,174.1 L992.7,172.1 L992.8,170.1 L993.0,168.1 L993.1,166.1 L993.2,164.1 L993.4,162.1 L993.5,160.1 L993.6,158.1 L993.8,156.1 L993.9,154.1 L994.0,152.1 L994.2,150.1 L994.3,148.2 L994.5,146.2 L994.6,144.2 L994.7,142.2 L994.9,140.2 L995.0,138.2 L995.2,136.2 L995.3,134.2 L995.5,132.2 L995.6,130.2 L995.7,128.2 L995.9,126.2 L996.0,124.2 L996.2,122.2 L996.3,120.2 L996.5,118.2 L996.6,116.2 L996.8,114.2 L996.9,112.2 L997.1,110.3 L997.2,108.3 L997.4,106.3 L997.5,104.3 L997.7,102.3 L997.8,100.3 L998.0,98.3 L998.2,96.3 L998.3,94.3 L998.5,92.3 L998.6,90.3 L998.8,88.3 L998.9,86.3 L999.1,84.3 L999.3,82.3 L999.4,80.3 L999.6,78.3 L999.8,76.4 L1000.0,74.4 L1000.4,72.5 L1001.0,70.6 L1001.6,68.6 L1002.2,66.6 L1002.8,64.6 L1003.6,62.7 L1004.4,61.7 L1004.9,62.4 L1004.9,64.9 L1004.9,67.4 L1005.0,69.1 L1005.1,70.8 L1005.1,72.9 L1005.2,75.0 L1005.3,77.1 L1005.4,79.0 L1005.5,81.0 L1005.6,83.0 L1005.7,85.0 L1005.8,87.0 L1005.9,89.0 L1006.1,91.0 L1006.2,93.0 L1006.4,95.0 L1006.5,97.0 L1006.6,99.0 L1006.7,101.0 L1006.8,103.0 L1006.9,105.0 L1007.0,106.9 L1007.1,108.9 L1007.2,110.9 L1007.2,112.9 L1007.4,114.9 L1007.5,116.9 L1007.6,118.9 L1007.7,120.9 L1007.8,122.9 L1008.0,124.9 L1008.1,126.9 L1008.3,128.9 L1008.4,130.9 L1008.6,132.9 L1008.7,134.9 L1008.9,136.9 L1009.0,138.9 L1009.2,140.9 L1009.3,142.9 L1009.5,144.9 L1009.6,146.9 L1009.8,148.9 L1009.9,150.9 L1010.0,152.9 L1010.2,154.9 L1010.3,156.8 L1010.4,158.8 L1010.6,160.8 L1010.7,162.8 L1010.8,164.8 L1010.9,166.8 L1011.0,168.8 L1011.1,170.8 L1011.2,172.8 L1011.3,174.8 L1011.4,176.8 L1011.5,178.8 L1011.6,180.8 L1011.7,182.8 L1011.8,184.8 L1011.9,186.8 L1012.0,188.8 L1012.0,190.8 L1012.1,192.8 L1012.2,194.8 L1012.3,196.8 L1012.4,198.8 L1012.4,200.8 L1012.5,202.8 L1012.6,204.8 L1012.7,206.8 L1012.7,208.8 L1012.8,210.8 L1012.9,212.8 L1012.9,214.8 L1013.0,216.8 L1013.1,218.8 L1013.1,220.8 L1013.2,222.8 L1013.3,224.8 L1013.4,226.8 L1013.4,228.8 L1013.5,230.8 L1013.6,232.8 L1013.6,234.8 L1013.7,236.8 L1013.8,238.8 L1013.9,240.8 L1013.9,242.8 L1014.0,244.8 L1014.1,246.8 L1014.1,248.8 L1014.2,250.8 L1014.3,252.8 L1014.4,254.8 L1014.5,256.8 L1014.5,258.8 L1014.6,260.8 L1014.7,262.7 L1014.8,264.7 L1014.8,266.7 L1014.9,268.7 L1015.0,270.7 L1015.1,272.7 L1015.2,274.7 L1015.2,276.7 L1015.3,278.7 L1015.4,280.7 L1015.5,282.7 L1015.6,284.7 L1015.6,286.7 L1015.7,288.7 L1015.8,290.7 L1015.9,292.7 L1016.0,294.7 L1016.0,296.7 L1016.1,298.7 L1016.2,300.7 L1016.3,302.7 L1016.3,304.7 L1016.4,306.7 L1016.5,308.7 L1016.6,310.7 L1016.7,312.7 L1016.7,314.7 L1016.8,316.7 L1016.9,318.7 L1017.0,320.7 L1017.0,322.7 L1017.1,324.7 L1017.2,326.7 L1017.3,328.7 L1017.3,330.7 L1017.4,332.7 L1017.5,334.7 L1017.5,336.7 L1017.6,338.7 L1017.7,340.7 L1017.7,342.7 L1017.8,344.7 L1017.9,346.7 L1018.0,348.7 L1018.0,350.7 L1018.1,352.7 L1018.1,354.7 L1018.2,356.7 L1018.3,358.7 L1018.3,360.7 L1018.4,362.7 L1018.5,364.7 L1018.5,366.7 L1018.6,368.7 L1018.6,370.7 L1018.7,372.7 L1018.8,374.7 L1018.8,376.7 L1018.9,378.7 L1018.9,380.7 L1019.0,382.6 L1019.0,384.6 L1019.1,386.6 L1019.1,388.6 L1019.2,390.6 L1019.2,392.6 L1019.3,394.6 L1019.3,396.6 L1019.4,398.6 L1019.4,400.6 L1019.5,402.6 L1019.5,404.6 L1019.6,406.6 L1019.6,408.6 L1019.7,410.6 L1019.7,412.6 L1019.8,414.6 L1019.8,416.6 L1019.8,418.6 L1019.9,420.6 L1019.9,422.6 L1020.0,424.6 L1020.0,426.6 L1020.0,428.6 L1020.1,430.6 L1020.1,432.6 L1020.2,434.6 L1020.2,436.6 L1020.2,438.6 L1020.3,440.6 L1020.3,442.6 L1020.3,444.6 L1020.4,446.6 L1020.4,448.6 L1020.4,450.6 L1020.5,452.6 L1020.5,454.6 L1020.6,456.6 L1020.6,458.6 L1020.6,460.6 L1020.7,462.6 L1020.7,464.6 L1020.7,466.6 L1020.8,468.6 L1020.8,470.6 L1020.9,472.6 L1020.9,474.6 L1020.9,476.6 L1021.0,478.6 L1021.0,480.6 L1021.1,482.6 L1021.1,484.6 L1021.2,486.6 L1021.2,488.6 L1021.3,490.6 L1021.3,492.6 L1021.4,494.6 L1021.4,496.6 L1021.5,498.6 L1021.5,500.6 L1021.6,502.6 L1021.6,504.6 L1021.7,506.6 L1021.7,508.6 L1021.8,510.6 L1021.9,512.6 L1021.9,514.6 L1022.0,516.6 L1022.1,518.6 L1022.1,520.6 L1022.2,522.6 L1022.3,524.6 L1022.3,526.6 L1022.4,528.6 L1022.5,530.6 L1022.5,532.6 L1022.6,534.6 L1022.7,536.6 L1022.8,538.6 L1022.8,540.6 L1022.9,542.6 L1023.0,544.6 L1023.0,546.6 L1023.1,548.6 L1023.2,550.6 L1023.3,552.6 L1023.3,554.6 L1023.4,556.6 L1023.5,558.6 L1023.5,560.6 L1023.6,562.6 L1023.7,564.6 L1023.8,566.6 L1023.8,568.6 L1023.9,570.6 L1024.0,572.6 L1024.0,574.6 L1024.1,576.6 L1024.2,578.6 L1024.2,580.6 L1024.3,582.6 L1024.3,584.6 L1024.4,586.6 L1024.5,588.6 L1024.5,590.6 L1024.6,592.6 L1024.6,594.6 L1024.7,596.6 L1024.7,598.6 L1024.8,600.6 L1024.8,602.6 L1024.9,604.6 L1024.9,606.6 L1024.9,608.6 L1025.0,610.6 L1025.0,612.6 L1025.1,614.6 L1025.1,616.6 L1025.1,618.6 L1025.2,620.6 L1025.2,622.6 L1025.2,624.6 L1025.3,626.6 L1025.3,628.6 L1025.3,630.6 L1025.4,632.6 L1025.4,634.6 L1025.4,636.6 L1025.5,638.6 L1025.5,640.6 L1025.5,642.6 L1025.6,644.6 L1025.6,646.6 L1025.6,648.6 L1025.6,650.6 L1025.7,652.6 L1025.7,654.6 L1025.7,656.6 L1025.8,658.6 L1025.8,660.6 L1025.8,662.6 L1025.9,664.6 L1025.9,666.6 L1025.9,668.6 L1026.0,670.6 L1026.0,672.6 L1026.0,674.6 L1026.1,676.6 L1026.1,678.6 L1026.2,680.6 L1026.2,682.6 L1026.2,684.6 L1026.3,686.6 L1026.3,688.6 L1026.4,690.6 L1026.4,692.6 L1026.5,694.6 L1026.5,696.6 L1026.6,698.5 L1026.6,700.5 L1026.7,702.5 L1026.7,704.5 L1026.8,706.5 L1026.9,708.5 L1026.9,710.5 L1027.0,712.5 L1027.0,714.5 L1027.1,716.5 L1027.2,718.5 L1027.2,720.5 L1027.3,722.5 L1027.3,724.5 L1027.4,726.5 L1027.5,728.5 L1027.5,730.5 L1027.6,732.5 L1027.6,734.5 L1027.7,736.5 L1027.8,738.5 L1027.8,740.5 L1027.9,742.5 L1027.9,744.5 L1028.0,746.5 L1028.1,748.5 L1028.1,750.5 L1028.2,752.5 L1028.2,754.5 L1028.3,756.5 L1028.3,758.5 L1028.4,760.5 L1028.4,762.5 L1028.5,764.5 L1028.5,766.5 L1028.6,768.5 L1028.6,770.5 L1028.7,772.5 L1028.7,774.5 L1028.8,776.5 L1028.8,778.5 L1028.9,780.5 L1028.9,782.5 L1028.9,784.5 L1029.0,786.5 L1029.0,788.5 L1029.0,790.5 L1029.1,792.5 L1029.1,794.5 L1029.1,796.5 L1029.1,798.5 L1029.2,800.5 L1029.2,802.5 L1029.2,804.5 L1029.3,806.5 L1029.3,808.5 L1029.3,810.5 L1029.3,812.5 L1029.4,814.5 L1029.4,816.5 L1029.4,818.5 L1029.4,820.5 L1029.5,822.5 L1029.5,824.5 L1029.5,826.5 L1029.5,828.5 L1029.6,830.5 L1029.6,832.5 L1029.6,834.5 L1029.7,836.5 L1029.7,838.5 L1029.7,840.5 L1029.8,842.5 L1029.8,844.5 L1029.8,846.5 L1029.9,848.5 L1029.9,850.5 L1029.9,852.5 L1030.0,854.5 L1030.0,856.5 L1030.1,858.5 L1030.1,860.5 L1030.1,862.5 L1030.2,864.5 L1030.2,866.5 L1030.3,868.5 L1030.4,870.5 L1030.4,872.5 L1030.5,874.5 L1030.5,876.5 L1030.6,878.5 L1030.7,880.5 L1030.7,882.5 L1030.8,884.5 L1030.9,886.5 L1030.9,888.5 L1031.0,890.5 L1031.1,892.5 L1031.1,894.5 L1031.2,896.5 L1031.3,898.5 L1031.4,900.5 L1031.5,902.5 L1031.5,904.5 L1031.6,906.4 L1031.7,908.4 L1031.8,910.4 L1031.9,912.4 L1032.0,914.4 L1032.1,916.4 L1032.2,918.4 L1032.2,920.4 L1032.3,922.4 L1032.4,924.4 L1032.5,926.4 L1032.6,928.4 L1032.7,930.4 L1032.8,932.4 L1032.9,934.4 L1033.0,936.4 L1033.1,938.4 L1033.2,940.4 L1033.3,942.4 L1033.4,944.4 L1033.5,946.4 L1033.6,948.4 L1033.7,950.4 L1033.8,952.4 L1033.9,954.4 L1034.0,956.4 L1034.1,958.4 L1034.2,960.4 L1034.3,962.4 L1034.4,964.4 L1034.5,966.4 L1034.6,968.3 L1034.8,970.3 L1034.9,972.3 L1035.0,974.3 L1035.1,976.3 L1035.2,978.3 L1035.4,980.3 L1035.5,982.3 L1035.7,984.3 L1035.8,986.3 L1036.0,988.3 L1036.1,990.3 L1036.3,992.3 L1036.5,994.3 L1036.7,996.3 L1036.9,998.2 L1037.1,1000.2 L1037.3,1002.2 L1037.5,1004.2 L1037.7,1006.2 L1038.0,1008.2 L1038.2,1010.2 L1038.5,1012.2 L1038.8,1014.1 L1039.0,1016.1 L1039.3,1018.1 L1039.7,1020.1 L1040.0,1022.1 L1040.3,1024.0 L1040.6,1026.0 L1041.0,1027.9 L1041.4,1029.9 L1041.9,1031.9 L1042.4,1033.8 L1042.9,1035.7 L1043.5,1037.6 L1044.1,1039.5 L1044.8,1041.4 L1045.6,1043.2 L1046.5,1045.0 L1047.4,1046.8 L1048.5,1048.5 L1049.6,1050.1 L1050.9,1051.7 L1052.2,1053.2 L1053.5,1054.7 L1054.9,1056.1 L1056.4,1057.5 L1057.9,1058.8 L1059.5,1060.0 L1061.1,1061.2 L1062.7,1062.4 L1064.4,1063.5 L1066.0,1064.7 L1067.6,1065.8 L1069.2,1067.0 L1070.9,1068.2 L1072.5,1069.3 L1074.1,1070.5 L1075.8,1071.6 L1077.5,1072.6 L1079.2,1073.6 L1081.0,1074.6 L1082.8,1075.5 L1084.6,1076.4 L1086.4,1077.2 L1088.2,1078.1 L1090.0,1078.9 L1091.9,1079.7 L1093.7,1080.4 L1095.6,1081.1 L1097.4,1081.8 L1099.3,1082.5 L1101.2,1083.1 L1103.2,1083.5 L1105.2,1083.6 L1107.2,1083.7 L1109.2,1083.8 L1111.2,1083.9 L1113.2,1084.0 L1115.2,1084.1 L1117.2,1084.2 L1119.2,1084.3 L1121.2,1084.5 L1123.2,1084.6 L1125.2,1084.8 L1127.2,1085.0 L1129.1,1085.3 L1131.1,1085.6 L1133.1,1085.9 L1135.0,1086.3 L1137.0,1086.6 L1139.0,1087.0 L1141.0,1087.3 L1142.9,1087.7 L1144.9,1088.0 L1146.9,1088.3 L1148.8,1088.6 L1150.8,1088.9 L1152.8,1089.2 L1154.8,1089.5 L1156.8,1089.8 L1158.7,1090.0 L1160.7,1090.3 L1162.7,1090.5 L1164.7,1090.8 L1166.7,1091.0 L1168.7,1091.2 L1170.7,1091.5 L1172.6,1091.7 L1174.6,1091.9 L1176.6,1092.1 L1178.6,1092.3 L1180.6,1092.6 L1182.6,1092.8 L1184.6,1093.0 L1186.6,1093.1 L1188.6,1093.3 L1190.5,1093.5 L1192.5,1093.7 L1194.5,1093.9 L1196.5,1094.0 L1198.5,1094.2 L1200.5,1094.4 L1202.5,1094.5 L1204.5,1094.7 L1206.5,1094.8 L1208.5,1095.0 L1210.5,1095.1 L1212.5,1095.2 L1214.5,1095.4 L1216.5,1095.5 L1218.5,1095.6 L1220.5,1095.7 L1222.5,1095.8 L1224.5,1095.9 L1226.5,1096.0 L1228.5,1096.1 L1230.5,1096.2 L1232.5,1096.2 L1234.5,1096.3 L1236.5,1096.4 L1238.4,1096.4 L1240.4,1096.5 L1242.4,1096.6 L1244.4,1096.6 L1246.4,1096.7 L1248.4,1096.7 L1250.4,1096.8 L1252.4,1096.8 L1254.4,1096.9 L1256.4,1097.0 L1258.4,1097.0 L1260.4,1097.1 L1262.4,1097.1 L1264.4,1097.2 L1266.4,1097.2 L1268.4,1097.3 L1270.4,1097.3 L1272.4,1097.4 L1274.4,1097.4 L1276.4,1097.4 L1278.4,1097.4 L1280.4,1097.5 L1282.4,1097.5 L1284.4,1097.5 L1286.4,1097.5 L1288.4,1097.4 L1290.4,1097.4 L1292.4,1097.4 L1294.4,1097.4 L1296.4,1097.4 L1298.4,1097.4 L1300.4,1097.3 L1302.4,1097.3 L1304.4,1097.3 L1306.4,1097.3 L1308.4,1097.4 L1310.4,1097.4 L1312.4,1097.4 L1314.4,1097.5 L1316.4,1097.5 L1318.5,1097.6 L1320.5,1097.6 L1322.5,1097.6 L1324.5,1097.7 L1326.5,1097.7 L1328.5,1097.7 L1330.5,1097.6 L1332.5,1097.6 L1334.5,1097.5 L1336.4,1097.4 L1338.4,1097.2 L1340.4,1097.0 L1342.4,1096.8 L1344.4,1096.6 L1346.3,1096.3 L1348.3,1096.1 L1350.3,1095.8 L1352.2,1095.5 L1354.2,1095.3 L1356.2,1095.0 L1358.1,1094.7 L1360.1,1094.5 L1362.1,1094.3 L1364.0,1094.1 L1366.0,1093.9 L1368.0,1093.8 L1370.0,1093.7 L1371.9,1093.6 L1373.9,1093.5 L1375.9,1093.4 L1377.9,1093.4 L1379.9,1093.3 L1381.9,1093.3 L1383.8,1093.2 L1385.8,1093.2 L1387.8,1093.1 L1389.8,1093.0 L1391.8,1092.9 L1393.8,1092.8 L1395.8,1092.6 L1397.8,1092.5 L1399.8,1092.3 L1401.7,1092.1 L1403.7,1091.9 L1405.7,1091.7 L1407.7,1091.5 L1409.7,1091.4 L1411.7,1091.2 L1413.7,1091.1 L1415.7,1091.0 L1417.6,1090.9 L1419.6,1090.9 L1421.6,1090.9 L1423.6,1091.0 L1425.5,1091.1 L1427.5,1091.2 L1429.5,1091.4 L1431.4,1091.5 L1433.4,1091.7 L1435.4,1091.9 L1437.3,1092.2 L1439.3,1092.4 L1441.3,1092.6 L1443.2,1092.8 L1445.2,1093.0 L1447.1,1093.2 L1449.1,1093.3 L1451.1,1093.5 L1453.0,1093.6 L1455.0,1093.7 L1457.0,1093.8 L1459.0,1093.8 L1460.9,1093.9 L1462.9,1093.9 L1464.9,1094.0 L1466.9,1094.0 L1468.9,1094.0 L1470.8,1094.0 L1472.8,1094.0 L1474.8,1094.0 L1476.8,1094.0 L1478.8,1094.0 L1480.8,1094.0 L1482.8,1093.9 L1484.8,1093.9 L1486.9,1093.9 L1488.9,1093.9 L1490.9,1093.9 L1492.9,1093.9 L1494.9,1093.9 L1496.9,1093.9 L1498.9,1093.9 L1500.9,1093.9 L1502.9,1093.9 L1504.9,1093.9 L1506.9,1093.9 L1508.9,1093.9 L1510.9,1093.9 L1512.9,1093.9 L1514.9,1093.9 L1516.9,1093.9 L1518.9,1093.9 L1520.9,1093.9 L1522.9,1093.9 L1524.9,1093.9 L1526.9,1093.9 L1528.9,1093.9 L1530.9,1093.9 L1532.9,1093.8 L1534.9,1093.7 L1536.9,1093.4 L1538.8,1092.8 L1540.0,1092.2"/>
<path class="c" stroke="#000000" d="M206.4,1087.8 L208.4,1087.6 L210.4,1087.4 L212.4,1087.2 L214.4,1087.0 L216.3,1086.9 L218.3,1086.7 L220.3,1086.6 L222.3,1086.4 L224.3,1086.3 L226.3,1086.1 L228.3,1086.0 L230.3,1085.9 L232.3,1085.7 L234.3,1085.6 L236.3,1085.5 L238.3,1085.4 L240.3,1085.3 L242.3,1085.1 L244.3,1085.0 L246.2,1084.9 L248.2,1084.8 L250.2,1084.7 L252.2,1084.5 L254.2,1084.4 L256.2,1084.3 L258.2,1084.2 L260.2,1084.0 L262.2,1083.9 L264.2,1083.7 L266.2,1083.6 L268.2,1083.4 L270.2,1083.3 L272.2,1083.1 L274.2,1082.9 L276.2,1082.7 L278.2,1082.5 L280.1,1082.3 L282.1,1082.1 L284.1,1081.9 L286.1,1081.6 L288.1,1081.4 L290.1,1081.1 L292.1,1080.9 L294.1,1080.6 L296.0,1080.3 L298.0,1080.1 L300.0,1079.9 L302.0,1079.7 L304.0,1079.5 L306.0,1079.3 L308.0,1079.1 L310.0,1078.9 L312.0,1078.7 L313.9,1078.4 L315.9,1078.2 L317.9,1077.9 L319.9,1077.7 L321.9,1077.4 L323.9,1077.2 L325.8,1076.9 L327.8,1076.7 L329.8,1076.4 L331.8,1076.2 L333.7,1075.9 L335.7,1075.7 L337.7,1075.4 L339.7,1075.2 L341.7,1074.9 L343.6,1074.7 L345.6,1074.4 L347.6,1074.2 L349.6,1073.9 L351.6,1073.6 L353.6,1073.4 L355.6,1073.1 L357.6,1072.9 L359.6,1072.6 L361.6,1072.3 L363.6,1072.1 L365.5,1071.8 L367.5,1071.5 L369.5,1071.3 L371.5,1071.0 L373.5,1070.8 L375.5,1070.5 L377.5,1070.2 L379.4,1070.0 L381.4,1069.7 L383.4,1069.4 L385.4,1069.1 L387.4,1068.9 L389.3,1068.6 L391.3,1068.3 L393.3,1068.0 L395.3,1067.8 L397.2,1067.5 L399.2,1067.2 L401.2,1066.9 L403.2,1066.6 L405.1,1066.3 L407.1,1066.0 L409.1,1065.7 L411.0,1065.3 L413.0,1065.0 L415.0,1064.7 L416.9,1064.3 L418.9,1064.0 L420.8,1063.6 L422.8,1063.3 L424.8,1062.9 L426.7,1062.6 L428.7,1062.2 L430.6,1061.8 L432.6,1061.4 L434.5,1061.0 L436.5,1060.6 L438.4,1060.2 L440.4,1059.7 L442.3,1059.3 L444.3,1058.9 L446.2,1058.4 L448.2,1057.9 L450.1,1057.5 L452.0,1057.0 L454.0,1056.5 L455.9,1056.0 L457.8,1055.4 L459.8,1054.9 L461.7,1054.4 L463.6,1053.8 L465.6,1053.3 L467.5,1052.7 L469.4,1052.1 L471.3,1051.5 L473.2,1050.9 L475.1,1050.2 L477.0,1049.6 L478.9,1048.9 L480.8,1048.3 L482.7,1047.6 L484.6,1046.9 L486.4,1046.2 L488.3,1045.4 L490.2,1044.7 L492.0,1043.9 L493.9,1043.2 L495.7,1042.4 L497.5,1041.6 L499.4,1040.7 L501.2,1039.9 L503.0,1039.0 L504.8,1038.2 L506.6,1037.3 L508.3,1036.4 L510.1,1035.5 L511.9,1034.5 L513.6,1033.6 L515.3,1032.6 L517.1,1031.6 L518.8,1030.6 L520.5,1029.6 L522.2,1028.5 L523.9,1027.4 L525.5,1026.4 L527.2,1025.2 L528.8,1024.1 L530.5,1023.0 L532.1,1021.8 L533.7,1020.6 L535.3,1019.4 L536.8,1018.2 L538.4,1017.0 L540.0,1015.7 L541.5,1014.4 L543.0,1013.1 L544.5,1011.8 L546.0,1010.5 L547.5,1009.2 L549.0,1007.8 L550.4,1006.4 L551.9,1005.0 L553.3,1003.6 L554.7,1002.2 L556.1,1000.8 L557.5,999.3 L558.8,997.8 L560.2,996.4 L561.5,994.9 L562.8,993.3 L564.1,991.8 L565.4,990.3 L566.7,988.7 L567.9,987.2 L569.2,985.6 L570.4,984.0 L571.6,982.4 L572.8,980.8 L573.9,979.1 L575.1,977.5 L576.2,975.9 L577.3,974.2 L578.4,972.5 L579.5,970.8 L580.6,969.1 L581.6,967.4 L582.6,965.7 L583.6,964.0 L584.6,962.3 L585.6,960.5 L586.5,958.8 L587.5,957.0 L588.4,955.2 L589.3,953.5 L590.2,951.7 L591.0,949.9 L591.9,948.1 L592.7,946.3 L593.6,944.5 L594.4,942.6 L595.2,940.8 L595.9,939.0 L596.7,937.1 L597.5,935.3 L598.2,933.4 L598.9,931.6 L599.6,929.7 L600.3,927.8 L601.0,926.0 L601.7,924.1 L602.4,922.2 L603.0,920.3 L603.7,918.4 L604.3,916.5 L605.0,914.6 L605.6,912.7 L606.2,910.8 L606.8,908.9 L607.4,907.0 L608.0,905.1 L608.6,903.1 L609.2,901.2 L609.7,899.3 L610.3,897.4 L610.9,895.4 L611.4,893.5 L612.0,891.6 L612.5,889.7 L613.1,887.7 L613.6,885.8 L614.2,883.9 L614.7,881.9 L615.2,880.0 L615.8,878.1 L616.3,876.2 L616.8,874.2 L617.3,872.3 L617.8,870.4 L618.4,868.4 L618.9,866.5 L619.4,864.6 L619.9,862.7 L620.4,860.7 L620.9,858.8 L621.4,856.9 L621.9,854.9 L622.4,853.0 L622.9,851.1 L623.4,849.1 L623.9,847.2 L624.4,845.3 L624.9,843.3 L625.4,841.4 L625.9,839.5 L626.4,837.5 L626.9,835.6 L627.4,833.7 L627.9,831.7 L628.3,829.8 L628.8,827.8 L629.3,825.9 L629.8,824.0 L630.3,822.0 L630.8,820.1 L631.2,818.1 L631.7,816.2 L632.2,814.2 L632.7,812.3 L633.2,810.3 L633.7,808.4 L634.2,806.5 L634.7,804.5 L635.2,802.6 L635.7,800.7 L636.3,798.7 L636.8,796.8 L637.4,794.9 L638.0,793.0 L638.6,791.1 L639.2,789.2 L639.9,787.3 L640.5,785.4 L641.2,783.5 L641.9,781.7 L642.7,779.8 L643.4,778.0 L644.2,776.1 L644.9,774.3 L645.7,772.4 L646.6,770.6 L647.6,768.9 L648.7,767.2 L649.8,765.6 L651.0,763.9 L652.2,762.3 L653.6,761.0 L655.4,760.2 L657.4,759.8 L659.4,759.7 L661.3,760.1 L663.1,761.0 L664.7,762.3 L666.1,763.7 L667.4,765.2 L668.7,766.7 L669.9,768.3 L671.1,770.0 L672.2,771.6 L673.2,773.3 L674.2,775.0 L675.2,776.8 L676.2,778.5 L677.1,780.3 L677.9,782.2 L678.7,784.0 L679.5,785.8 L680.3,787.7 L681.1,789.5 L681.9,791.3 L682.8,793.1 L683.7,794.9 L684.5,796.7 L685.3,798.6 L686.1,800.4 L686.9,802.2 L687.6,804.1 L688.4,806.0 L689.1,807.8 L689.8,809.7 L690.5,811.6 L691.3,813.4 L692.0,815.3 L692.8,817.1 L693.6,818.9 L694.4,820.8 L695.2,822.6 L696.1,824.4 L696.9,826.2 L697.8,828.0 L698.6,829.8 L699.5,831.7 L700.3,833.5 L701.2,835.3 L702.0,837.1 L702.8,838.9 L703.7,840.7 L704.5,842.6 L705.3,844.4 L706.1,846.2 L706.9,848.0 L707.7,849.9 L708.5,851.7 L709.3,853.5 L710.1,855.4 L711.0,857.2 L711.8,859.0 L712.6,860.8 L713.5,862.6 L714.3,864.5 L715.2,866.3 L716.1,868.1 L716.9,869.8 L717.9,871.6 L718.8,873.4 L719.7,875.1 L720.7,876.9 L721.7,878.6 L722.7,880.3 L723.7,882.0 L724.8,883.7 L725.8,885.4 L726.9,887.0 L728.1,888.7 L729.2,890.3 L730.4,891.9 L731.6,893.5 L732.9,895.0 L734.1,896.6 L735.4,898.1 L736.6,899.7 L737.9,901.2 L739.2,902.7 L740.5,904.3 L741.8,905.8 L743.1,907.3 L744.3,908.9 L745.6,910.4 L746.9,911.9 L748.2,913.5 L749.4,915.0 L750.7,916.6 L752.0,918.1 L753.2,919.7 L754.5,921.2 L755.8,922.8 L757.1,924.3 L758.4,925.8 L759.7,927.3 L761.0,928.8 L762.4,930.3 L763.7,931.7 L765.1,933.2 L766.5,934.6 L767.9,936.0 L769.3,937.4 L770.8,938.8 L772.2,940.2 L773.6,941.6 L775.0,943.0 L776.4,944.5 L777.8,945.9 L779.2,947.4 L780.5,948.8 L781.8,950.3 L783.1,951.8 L784.4,953.4 L785.6,955.0 L786.8,956.5 L788.0,958.2 L789.2,959.8 L790.3,961.4 L791.5,963.1 L792.6,964.7 L793.8,966.4 L794.9,968.0 L796.0,969.7 L797.2,971.3 L798.3,972.9 L799.5,974.6 L800.7,976.2 L801.9,977.8 L803.1,979.3 L804.3,980.9 L805.6,982.5 L806.9,984.0 L808.1,985.5 L809.4,987.0 L810.8,988.5 L812.1,990.0 L813.5,991.5 L814.8,993.0 L816.2,994.4 L817.7,995.8 L819.1,997.2 L820.6,998.6 L822.1,1000.0 L823.6,1001.3 L825.2,1002.6 L826.7,1003.8 L828.3,1005.0 L830.0,1006.1 L831.7,1007.1 L833.4,1008.1 L835.2,1009.0 L836.9,1009.7 L838.8,1010.4 L840.7,1011.0 L842.6,1011.5 L844.5,1011.9 L846.5,1012.2 L848.5,1012.4 L850.5,1012.5 L852.6,1012.5 L854.6,1012.3 L856.6,1012.1 L858.6,1011.8 L860.6,1011.4 L862.5,1010.9 L864.4,1010.3 L866.3,1009.6 L868.1,1008.8 L869.9,1007.9 L871.6,1006.9 L873.2,1005.8 L874.8,1004.7 L876.4,1003.5 L877.9,1002.2 L879.4,1000.9 L880.8,999.5 L882.2,998.0 L883.5,996.5 L884.8,995.0 L886.1,993.4 L887.3,991.8 L888.4,990.2 L889.6,988.5 L890.7,986.8 L891.7,985.1 L892.8,983.4 L893.8,981.7 L894.7,979.9 L895.7,978.2 L896.6,976.4 L897.5,974.6 L898.4,972.8 L899.2,971.0 L900.0,969.2 L900.8,967.3 L901.6,965.5 L902.3,963.6 L903.1,961.8 L903.8,959.9 L904.5,958.1 L905.2,956.2 L905.9,954.3 L906.5,952.4 L907.2,950.5 L907.8,948.6 L908.4,946.7 L909.1,944.8 L909.6,942.9 L910.2,941.0 L910.8,939.1 L911.4,937.2 L911.9,935.3 L912.5,933.3 L913.0,931.4 L913.6,929.5 L914.1,927.6 L914.6,925.6 L915.1,923.7 L915.7,921.8 L916.2,919.8 L916.7,917.9 L917.1,916.0 L917.6,914.0 L918.1,912.1 L918.6,910.1 L919.0,908.2 L919.5,906.2 L920.0,904.3 L920.4,902.3 L920.9,900.4 L921.3,898.4 L921.7,896.5 L922.2,894.5 L922.6,892.6 L923.0,890.6 L923.5,888.7 L923.9,886.7 L924.3,884.8 L924.7,882.8 L925.1,880.8 L925.5,878.9 L925.9,876.9 L926.4,875.0 L926.8,873.0 L927.2,871.0 L927.6,869.1 L928.0,867.1 L928.3,865.2 L928.7,863.2 L929.1,861.2 L929.5,859.3 L929.9,857.3 L930.3,855.4 L930.7,853.4 L931.1,851.4 L931.4,849.5 L931.8,847.5 L932.2,845.5 L932.6,843.6 L933.0,841.6 L933.3,839.7 L933.7,837.7 L934.1,835.7 L934.4,833.8 L934.8,831.8 L935.2,829.8 L935.5,827.9 L935.9,825.9 L936.3,823.9 L936.6,822.0 L937.0,820.0 L937.3,818.0 L937.7,816.1 L938.0,814.1 L938.4,812.1 L938.7,810.2 L939.1,808.2 L939.4,806.2 L939.8,804.3 L940.1,802.3 L940.5,800.3 L940.8,798.3 L941.2,796.4 L941.5,794.4 L941.8,792.4 L942.2,790.5 L942.5,788.5 L942.9,786.5 L943.2,784.5 L943.5,782.6 L943.8,780.6 L944.2,778.6 L944.5,776.7 L944.8,774.7 L945.2,772.7 L945.5,770.7 L945.8,768.8 L946.1,766.8 L946.4,764.8 L946.8,762.8 L947.1,760.9 L947.4,758.9 L947.7,756.9 L948.0,754.9 L948.3,753.0 L948.6,751.0 L948.9,749.0 L949.2,747.0 L949.5,745.0 L949.8,743.1 L950.1,741.1 L950.4,739.1 L950.7,737.1 L951.0,735.1 L951.3,733.2 L951.6,731.2 L951.8,729.2 L952.1,727.2 L952.4,725.2 L952.7,723.3 L952.9,721.3 L953.2,719.3 L953.5,717.3 L953.7,715.3 L954.0,713.3 L954.2,711.4 L954.5,709.4 L954.8,707.4 L955.0,705.4 L955.2,703.4 L955.5,701.4 L955.7,699.5 L956.0,697.5 L956.2,695.5 L956.4,693.5 L956.6,691.5 L956.9,689.5 L957.1,687.5 L957.3,685.6 L957.5,683.6 L957.7,681.6 L957.9,679.6 L958.1,677.6 L958.3,675.6 L958.5,673.6 L958.7,671.6 L958.9,669.6 L959.1,667.6 L959.3,665.7 L959.5,663.7 L959.7,661.7 L959.9,659.7 L960.1,657.7 L960.3,655.7 L960.5,653.7 L960.6,651.7 L960.8,649.7 L961.0,647.7 L961.2,645.7 L961.4,643.8 L961.5,641.8 L961.7,639.8 L961.9,637.8 L962.1,635.8 L962.2,633.8 L962.4,631.8 L962.6,629.8 L962.8,627.8 L962.9,625.8 L963.1,623.8 L963.3,621.8 L963.5,619.8 L963.6,617.9 L963.8,615.9 L964.0,613.9 L964.1,611.9 L964.3,609.9 L964.5,607.9 L964.7,605.9 L964.9,603.9 L965.0,601.9 L965.2,599.9 L965.4,597.9 L965.6,595.9 L965.7,593.9 L965.9,592.0 L966.1,590.0 L966.3,588.0 L966.5,586.0 L966.6,584.0 L966.8,582.0 L967.0,580.0 L967.2,578.0 L967.4,576.0 L967.5,574.0 L967.7,572.0 L967.9,570.0 L968.1,568.0 L968.3,566.1 L968.4,564.1 L968.6,562.1 L968.8,560.1 L969.0,558.1 L969.2,556.1 L969.3,554.1 L969.5,552.1 L969.7,550.1 L969.9,548.1 L970.0,546.1 L970.2,544.1 L970.4,542.2 L970.6,540.2 L970.7,538.2 L970.9,536.2 L971.1,534.2 L971.3,532.2 L971.4,530.2 L971.6,528.2 L971.8,526.2 L971.9,524.2 L972.1,522.2 L972.3,520.2 L972.4,518.2 L972.6,516.2 L972.8,514.3 L972.9,512.3 L973.1,510.3 L973.2,508.3 L973.4,506.3 L973.5,504.3 L973.7,502.3 L973.9,500.3 L974.0,498.3 L974.2,496.3 L974.3,494.3 L974.5,492.3 L974.6,490.3 L974.8,488.3 L974.9,486.3 L975.1,484.3 L975.2,482.4 L975.3,480.4 L975.5,478.4 L975.6,476.4 L975.8,474.4 L975.9,472.4 L976.0,470.4 L976.2,468.4 L976.3,466.4 L976.4,464.4 L976.6,462.4 L976.7,460.4 L976.8,458.4 L977.0,456.4 L977.1,454.4 L977.2,452.4 L977.4,450.4 L977.5,448.4 L977.6,446.4 L977.7,444.4 L977.8,442.4 L978.0,440.4 L978.1,438.5 L978.2,436.5 L978.3,434.5 L978.4,432.5 L978.6,430.5 L978.7,428.5 L978.8,426.5 L978.9,424.5 L979.0,422.5 L979.1,420.5 L979.2,418.5 L979.3,416.5 L979.4,414.5 L979.6,412.5 L979.7,410.5 L979.8,408.5 L979.9,406.5 L980.0,404.5 L980.1,402.5 L980.2,400.5 L980.3,398.5 L980.4,396.5 L980.5,394.5 L980.6,392.5 L980.7,390.5 L980.8,388.5 L980.9,386.5 L981.0,384.5 L981.1,382.5 L981.2,380.5 L981.3,378.5 L981.4,376.5 L981.5,374.5 L981.6,372.5 L981.7,370.5 L981.8,368.5 L981.9,366.5 L982.0,364.6 L982.1,362.6 L982.2,360.6 L982.3,358.6 L982.4,356.6 L982.5,354.6 L982.7,352.6 L982.8,350.6 L982.9,348.6 L983.0,346.6 L983.1,344.6 L983.2,342.6 L983.3,340.6 L983.4,338.6 L983.5,336.6 L983.7,334.6 L983.8,332.6 L983.9,330.6 L984.0,328.6 L984.1,326.6 L984.2,324.6 L984.4,322.6 L984.5,320.6 L984.6,318.6 L984.7,316.6 L984.9,314.6 L985.0,312.6 L985.1,310.6 L985.2,308.7 L985.4,306.7 L985.5,304.7 L985.6,302.7 L985.8,300.7 L985.9,298.7 L986.0,296.7 L986.1,294.7 L986.3,292.7 L986.4,290.7 L986.5,288.7 L986.7,286.7 L986.8,284.7 L986.9,282.7 L987.1,280.7 L987.2,278.7 L987.3,276.7 L987.5,274.7 L987.6,272.7 L987.7,270.7 L987.9,268.8 L988.0,266.8 L988.1,264.8 L988.3,262.8 L988.4,260.8 L988.5,258.8 L988.7,256.8 L988.8,254.8 L988.9,252.8 L989.1,250.8 L989.2,248.8 L989.3,246.8 L989.5,244.8 L989.6,242.8 L989.7,240.8 L989.9,238.8 L990.0,236.8 L990.1,234.8 L990.3,232.8 L990.4,230.9 L990.5,228.9 L990.6,226.9 L990.8,224.9 L990.9,222.9 L991.0,220.9 L991.2,218.9 L991.3,216.9 L991.4,214.9 L991.5,212.9 L991.7,210.9 L991.8,208.9 L991.9,206.9 L992.1,204.9 L992.2,202.9 L992.3,200.9 L992.5,198.9 L992.6,196.9 L992.7,194.9 L992.8,192.9 L993.0,191.0 L993.1,189.0 L993.2,187.0 L993.4,185.0 L993.5,183.0 L993.6,181.0 L993.8,179.0 L993.9,177.0 L994.0,175.0 L994.2,173.0 L994.3,171.0 L994.4,169.0 L994.6,167.0 L994.7,165.0 L994.8,163.0 L995.0,161.0 L995.1,159.0 L995.2,157.0 L995.4,155.0 L995.5,153.0 L995.6,151.0 L995.8,149.0 L995.9,147.0 L996.0,145.0 L996.2,143.0 L996.3,141.0 L996.4,139.0 L996.6,137.1 L996.7,135.1 L996.9,133.1 L997.0,131.1 L997.2,129.1 L997.3,127.1 L997.4,125.1 L997.6,123.1 L997.7,121.1 L997.9,119.1 L998.0,117.1 L998.2,115.1 L998.3,113.1 L998.5,111.1 L998.6,109.1 L998.8,107.1 L998.9,105.1 L999.1,103.1 L999.2,101.2 L999.4,99.2 L999.5,97.2 L999.7,95.2 L999.8,93.2 L1000.0,91.2 L1000.1,89.2 L1000.3,87.2 L1000.5,85.2 L1000.6,83.2 L1000.8,81.3 L1001.0,79.3 L1001.1,77.3 L1001.3,75.3 L1001.4,73.3 L1001.6,71.3 L1001.8,69.3 L1002.0,67.3 L1002.6,65.2 L1003.5,63.1 L1004.7,61.7 L1005.9,61.7 L1007.1,62.8 L1008.1,64.7 L1008.8,66.9 L1009.2,68.8 L1009.6,70.6 L1009.8,72.6 L1010.1,74.6 L1010.3,76.7 L1010.4,78.7 L1010.5,80.6 L1010.7,82.6 L1010.9,84.6 L1011.1,86.6 L1011.3,88.6 L1011.4,90.6 L1011.5,92.6 L1011.7,94.6 L1011.8,96.6 L1011.9,98.6 L1012.0,100.6 L1012.2,102.6 L1012.3,104.6 L1012.5,106.5 L1012.7,108.5 L1012.9,110.5 L1013.1,112.5 L1013.2,114.5 L1013.4,116.5 L1013.6,118.5 L1013.8,120.5 L1013.9,122.5 L1014.1,124.5 L1014.3,126.5 L1014.4,128.5 L1014.6,130.5 L1014.7,132.5 L1014.9,134.5 L1015.0,136.4 L1015.2,138.4 L1015.3,140.4 L1015.5,142.4 L1015.6,144.4 L1015.7,146.4 L1015.9,148.4 L1016.0,150.4 L1016.1,152.4 L1016.2,154.4 L1016.3,156.4 L1016.4,158.4 L1016.5,160.4 L1016.6,162.4 L1016.7,164.4 L1016.8,166.4 L1016.9,168.4 L1017.0,170.4 L1017.1,172.4 L1017.1,174.4 L1017.2,176.4 L1017.3,178.4 L1017.3,180.4 L1017.4,182.4 L1017.4,184.4 L1017.5,186.4 L1017.5,188.4 L1017.6,190.4 L1017.6,192.4 L1017.7,194.4 L1017.7,196.4 L1017.8,198.4 L1017.8,200.4 L1017.8,202.4 L1017.9,204.4 L1017.9,206.4 L1017.9,208.4 L1018.0,210.4 L1018.0,212.4 L1018.0,214.4 L1018.1,216.4 L1018.1,218.4 L1018.1,220.4 L1018.1,222.4 L1018.2,224.4 L1018.2,226.4 L1018.2,228.4 L1018.2,230.4 L1018.3,232.4 L1018.3,234.4 L1018.3,236.4 L1018.3,238.4 L1018.4,240.4 L1018.4,242.4 L1018.4,244.4 L1018.4,246.4 L1018.5,248.4 L1018.5,250.4 L1018.6,252.4 L1018.6,254.4 L1018.6,256.4 L1018.7,258.4 L1018.7,260.4 L1018.8,262.4 L1018.8,264.4 L1018.9,266.4 L1018.9,268.4 L1019.0,270.4 L1019.0,272.4 L1019.1,274.4 L1019.1,276.4 L1019.2,278.4 L1019.2,280.4 L1019.3,282.4 L1019.4,284.4 L1019.4,286.4 L1019.5,288.4 L1019.5,290.4 L1019.6,292.4 L1019.7,294.4 L1019.7,296.4 L1019.8,298.4 L1019.9,300.3 L1019.9,302.3 L1020.0,304.3 L1020.1,306.3 L1020.1,308.3 L1020.2,310.3 L1020.3,312.3 L1020.4,314.3 L1020.4,316.3 L1020.5,318.3 L1020.6,320.3 L1020.6,322.3 L1020.7,324.3 L1020.8,326.3 L1020.9,328.3 L1020.9,330.3 L1021.0,332.3 L1021.1,334.3 L1021.1,336.3 L1021.2,338.3 L1021.3,340.3 L1021.3,342.3 L1021.4,344.3 L1021.5,346.3 L1021.5,348.3 L1021.6,350.3 L1021.7,352.3 L1021.7,354.3 L1021.8,356.3 L1021.9,358.3 L1021.9,360.3 L1022.0,362.3 L1022.1,364.3 L1022.1,366.3 L1022.2,368.3 L1022.2,370.3 L1022.3,372.3 L1022.4,374.3 L1022.4,376.3 L1022.5,378.3 L1022.5,380.3 L1022.6,382.3 L1022.6,384.3 L1022.7,386.3 L1022.8,388.3 L1022.8,390.3 L1022.9,392.3 L1022.9,394.3 L1023.0,396.3 L1023.0,398.3 L1023.1,400.3 L1023.1,402.3 L1023.2,404.3 L1023.2,406.3 L1023.3,408.3 L1023.3,410.3 L1023.4,412.3 L1023.4,414.3 L1023.5,416.3 L1023.5,418.3 L1023.6,420.3 L1023.6,422.3 L1023.7,424.3 L1023.7,426.3 L1023.7,428.3 L1023.8,430.3 L1023.8,432.3 L1023.9,434.3 L1023.9,436.3 L1024.0,438.3 L1024.0,440.3 L1024.0,442.3 L1024.1,444.3 L1024.1,446.3 L1024.2,448.3 L1024.2,450.3 L1024.3,452.3 L1024.3,454.3 L1024.3,456.3 L1024.4,458.3 L1024.4,460.3 L1024.5,462.3 L1024.5,464.3 L1024.5,466.3 L1024.6,468.3 L1024.6,470.3 L1024.7,472.3 L1024.7,474.3 L1024.8,476.3 L1024.8,478.3 L1024.9,480.3 L1024.9,482.3 L1025.0,484.3 L1025.0,486.3 L1025.1,488.3 L1025.1,490.3 L1025.2,492.3 L1025.2,494.3 L1025.3,496.3 L1025.3,498.3 L1025.4,500.3 L1025.4,502.3 L1025.5,504.3 L1025.5,506.3 L1025.6,508.3 L1025.7,510.3 L1025.7,512.3 L1025.8,514.3 L1025.9,516.3 L1025.9,518.3 L1026.0,520.3 L1026.1,522.3 L1026.1,524.3 L1026.2,526.3 L1026.3,528.2 L1026.4,530.2 L1026.5,532.2 L1026.5,534.2 L1026.6,536.2 L1026.7,538.2 L1026.8,540.2 L1026.9,542.2 L1027.0,544.2 L1027.1,546.2 L1027.2,548.2 L1027.2,550.2 L1027.3,552.2 L1027.4,554.2 L1027.5,556.2 L1027.6,558.2 L1027.7,560.2 L1027.8,562.2 L1027.9,564.2 L1028.0,566.2 L1028.1,568.2 L1028.2,570.2 L1028.3,572.2 L1028.4,574.2 L1028.5,576.2 L1028.6,578.2 L1028.7,580.2 L1028.8,582.2 L1028.9,584.2 L1029.0,586.2 L1029.1,588.2 L1029.3,590.2 L1029.4,592.2 L1029.5,594.2 L1029.6,596.2 L1029.7,598.2 L1029.8,600.2 L1029.9,602.2 L1030.0,604.2 L1030.1,606.2 L1030.2,608.2 L1030.3,610.2 L1030.4,612.1 L1030.5,614.1 L1030.6,616.1 L1030.7,618.1 L1030.8,620.1 L1030.9,622.1 L1031.0,624.1 L1031.0,626.1 L1031.1,628.1 L1031.2,630.1 L1031.3,632.1 L1031.4,634.1 L1031.5,636.1 L1031.6,638.1 L1031.7,640.1 L1031.8,642.1 L1031.9,644.1 L1032.0,646.1 L1032.1,648.1 L1032.1,650.1 L1032.2,652.1 L1032.3,654.1 L1032.4,656.1 L1032.5,658.1 L1032.6,660.1 L1032.7,662.1 L1032.8,664.1 L1032.9,666.1 L1032.9,668.1 L1033.0,670.1 L1033.1,672.1 L1033.2,674.1 L1033.3,676.1 L1033.4,678.1 L1033.5,680.1 L1033.6,682.1 L1033.7,684.1 L1033.8,686.1 L1033.8,688.1 L1033.9,690.1 L1034.0,692.1 L1034.1,694.1 L1034.2,696.1 L1034.3,698.1 L1034.4,700.1 L1034.5,702.0 L1034.6,704.0 L1034.7,706.0 L1034.8,708.0 L1034.9,710.0 L1035.0,712.0 L1035.1,714.0 L1035.2,716.0 L1035.3,718.0 L1035.4,720.0 L1035.5,722.0 L1035.6,724.0 L1035.7,726.0 L1035.8,728.0 L1035.9,730.0 L1036.0,732.0 L1036.1,734.0 L1036.2,736.0 L1036.3,738.0 L1036.4,740.0 L1036.5,742.0 L1036.6,744.0 L1036.8,746.0 L1036.9,748.0 L1037.0,750.0 L1037.1,752.0 L1037.2,754.0 L1037.4,756.0 L1037.5,758.0 L1037.6,760.0 L1037.7,762.0 L1037.9,764.0 L1038.0,766.0 L1038.1,768.0 L1038.2,770.0 L1038.4,771.9 L1038.5,773.9 L1038.7,775.9 L1038.8,777.9 L1038.9,779.9 L1039.1,781.9 L1039.2,783.9 L1039.4,785.9 L1039.5,787.9 L1039.7,789.9 L1039.8,791.9 L1040.0,793.9 L1040.1,795.9 L1040.3,797.9 L1040.5,799.9 L1040.6,801.9 L1040.8,803.9 L1041.0,805.8 L1041.1,807.8 L1041.3,809.8 L1041.5,811.8 L1041.7,813.8 L1041.8,815.8 L1042.0,817.8 L1042.2,819.8 L1042.4,821.8 L1042.6,823.8 L1042.8,825.8 L1043.0,827.8 L1043.2,829.7 L1043.4,831.7 L1043.6,833.7 L1043.8,835.7 L1044.0,837.7 L1044.2,839.7 L1044.4,841.7 L1044.6,843.7 L1044.8,845.7 L1045.0,847.6 L1045.2,849.6 L1045.4,851.6 L1045.6,853.6 L1045.9,855.6 L1046.1,857.6 L1046.3,859.6 L1046.5,861.6 L1046.8,863.5 L1047.0,865.5 L1047.2,867.5 L1047.5,869.5 L1047.7,871.5 L1047.9,873.5 L1048.2,875.5 L1048.4,877.4 L1048.7,879.4 L1048.9,881.4 L1049.2,883.4 L1049.4,885.4 L1049.7,887.4 L1049.9,889.3 L1050.2,891.3 L1050.4,893.3 L1050.7,895.3 L1051.0,897.3 L1051.2,899.3 L1051.5,901.2 L1051.8,903.2 L1052.0,905.2 L1052.3,907.2 L1052.6,909.2 L1052.9,911.1 L1053.2,913.1 L1053.5,915.1 L1053.8,917.1 L1054.1,919.1 L1054.4,921.0 L1054.7,923.0 L1055.0,925.0 L1055.3,927.0 L1055.6,928.9 L1055.9,930.9 L1056.2,932.9 L1056.6,934.9 L1056.9,936.8 L1057.2,938.8 L1057.6,940.8 L1057.9,942.7 L1058.3,944.7 L1058.6,946.7 L1059.0,948.6 L1059.4,950.6 L1059.7,952.6 L1060.1,954.5 L1060.5,956.5 L1060.9,958.5 L1061.3,960.4 L1061.7,962.4 L1062.1,964.4 L1062.5,966.3 L1062.9,968.3 L1063.3,970.2 L1063.7,972.2 L1064.2,974.1 L1064.6,976.1 L1065.0,978.0 L1065.5,980.0 L1066.0,981.9 L1066.5,983.9 L1067.0,985.8 L1067.5,987.7 L1068.1,989.6 L1068.6,991.6 L1069.2,993.5 L1069.9,995.3 L1070.5,997.2 L1071.2,999.1 L1071.9,1001.0 L1072.7,1002.8 L1073.5,1004.6 L1074.3,1006.4 L1075.2,1008.2 L1076.1,1010.0 L1077.1,1011.8 L1078.1,1013.6 L1079.1,1015.3 L1080.1,1017.0 L1081.2,1018.7 L1082.3,1020.4 L1083.4,1022.1 L1084.5,1023.7 L1085.6,1025.4 L1086.7,1027.0 L1087.8,1028.7 L1089.0,1030.3 L1090.1,1031.9 L1091.3,1033.6 L1092.4,1035.2 L1093.6,1036.9 L1094.7,1038.5 L1095.9,1040.1 L1097.1,1041.7 L1098.3,1043.3 L1099.6,1044.9 L1100.8,1046.4 L1102.2,1047.9 L1103.5,1049.4 L1105.0,1050.8 L1106.4,1052.1 L1107.9,1053.4 L1109.5,1054.7 L1111.0,1056.0 L1112.5,1057.3 L1114.0,1058.6 L1115.5,1059.9 L1117.1,1061.2 L1118.6,1062.5 L1120.2,1063.7 L1121.8,1064.8 L1123.6,1065.7 L1125.4,1066.6 L1127.2,1067.5 L1129.0,1068.3 L1130.8,1069.2 L1132.7,1070.0 L1134.5,1070.9 L1136.2,1071.8 L1138.0,1072.6 L1139.8,1073.5 L1141.6,1074.4 L1143.4,1075.2 L1145.3,1076.0 L1147.1,1076.9 L1148.9,1077.7 L1150.8,1078.5 L1152.6,1079.3 L1154.4,1080.0 L1156.3,1080.8 L1158.1,1081.5 L1160.0,1082.3 L1161.9,1083.0 L1163.8,1083.7 L1165.6,1084.4 L1167.5,1085.0 L1169.4,1085.7 L1171.3,1086.3 L1173.2,1087.0 L1175.1,1087.6 L1177.0,1088.2 L1178.9,1088.7 L1180.8,1089.3 L1182.8,1089.8 L1184.7,1090.3 L1186.6,1090.9 L1188.6,1091.3 L1190.5,1091.8 L1192.5,1092.3 L1194.4,1092.7 L1196.4,1093.1 L1198.3,1093.6 L1200.3,1094.0 L1202.2,1094.3 L1204.2,1094.7 L1206.2,1095.0 L1208.2,1095.4 L1210.1,1095.7 L1212.1,1096.0 L1214.1,1096.3 L1216.1,1096.6 L1218.0,1096.9 L1220.0,1097.1 L1222.0,1097.4 L1224.0,1097.7 L1226.0,1097.9 L1228.0,1098.2 L1229.9,1098.4 L1231.9,1098.7 L1233.9,1098.9 L1235.9,1099.2 L1237.9,1099.4 L1239.9,1099.6 L1241.9,1099.9 L1243.8,1100.1 L1245.8,1100.4 L1247.8,1100.6 L1249.8,1100.8 L1251.8,1101.0 L1253.8,1101.2 L1255.8,1101.4 L1257.8,1101.6 L1259.7,1101.8 L1261.7,1101.9 L1263.7,1102.1 L1265.7,1102.2 L1267.7,1102.4 L1269.7,1102.5 L1271.7,1102.6 L1273.7,1102.7 L1275.7,1102.8 L1277.7,1102.9 L1279.7,1103.0 L1281.7,1103.1 L1283.7,1103.1 L1285.7,1103.2 L1287.7,1103.2 L1289.7,1103.3 L1291.7,1103.3 L1293.7,1103.3 L1295.7,1103.4 L1297.7,1103.4 L1299.7,1103.4 L1301.7,1103.4 L1303.7,1103.4 L1305.7,1103.5 L1307.7,1103.5 L1309.7,1103.5 L1311.7,1103.5 L1313.7,1103.5 L1315.7,1103.5 L1317.7,1103.6 L1319.7,1103.6 L1321.7,1103.6 L1323.7,1103.6 L1325.7,1103.7 L1327.7,1103.7 L1329.7,1103.7 L1331.7,1103.7 L1333.7,1103.8 L1335.7,1103.8 L1337.7,1103.8 L1339.7,1103.8 L1341.7,1103.7 L1343.7,1103.7 L1345.7,1103.6 L1347.7,1103.6 L1349.7,1103.5 L1351.7,1103.4 L1353.7,1103.3 L1355.7,1103.2 L1357.7,1103.1 L1359.7,1103.0 L1361.7,1102.8 L1363.7,1102.7 L1365.7,1102.5 L1367.7,1102.4 L1369.7,1102.2 L1371.7,1102.0 L1373.6,1101.8 L1375.6,1101.6 L1377.6,1101.4 L1379.6,1101.2 L1381.6,1101.0 L1383.6,1100.8 L1385.6,1100.6 L1387.5,1100.4 L1389.5,1100.3 L1391.5,1100.1 L1393.5,1099.9 L1395.5,1099.8 L1397.5,1099.7 L1399.5,1099.5 L1401.5,1099.5 L1403.5,1099.4 L1405.5,1099.3 L1407.5,1099.3 L1409.5,1099.2 L1411.5,1099.2 L1413.5,1099.2 L1415.5,1099.2 L1417.5,1099.2 L1419.5,1099.2 L1421.5,1099.3 L1423.6,1099.3 L1425.6,1099.3 L1427.6,1099.4 L1429.6,1099.4 L1431.6,1099.5 L1433.5,1099.5 L1435.5,1099.6 L1437.5,1099.6 L1439.5,1099.7 L1441.5,1099.7 L1443.5,1099.8 L1445.4,1099.9 L1447.4,1100.0 L1449.4,1100.0 L1451.3,1100.2 L1453.3,1100.3 L1455.3,1100.4 L1457.2,1100.5 L1459.2,1100.7 L1461.1,1100.8 L1463.1,1101.0 L1465.0,1101.1 L1466.9,1101.3 L1468.9,1101.4 L1470.8,1101.6 L1472.8,1101.7 L1474.7,1101.8 L1476.7,1102.0 L1478.7,1102.1 L1480.6,1102.1 L1482.6,1102.2 L1484.6,1102.2 L1486.6,1102.2 L1488.6,1102.2 L1490.6,1102.2 L1492.6,1102.1 L1494.7,1102.1 L1496.7,1102.0 L1498.7,1102.0 L1500.7,1101.9 L1502.7,1101.8 L1504.8,1101.8 L1506.8,1101.7 L1508.8,1101.7 L1510.8,1101.7 L1512.8,1101.7 L1514.8,1101.7 L1516.8,1101.8 L1518.7,1101.8 L1520.7,1101.9 L1522.7,1101.9 L1524.7,1102.0 L1526.7,1102.0 L1528.7,1102.0 L1530.7,1102.0 L1532.7,1102.0 L1534.7,1102.0 L1536.7,1101.9 L1538.8,1101.8 L1540.1,1101.7"/>
</g>
<g class="ax">
<path d="M204.9,52.85 V1136.85"/>
<path d="M202.25,1134.2 H1543.05"/>
<path d="M183.3,1134.2 H204.9"/>
<path d="M193.5,863.9 H204.9"/>
<path d="M183.3,593.5 H204.9"/>
<path d="M193.5,325.7 H204.9"/>
<path d="M183.3,55.5 H204.9"/>
<path d="M205.0,1134.2 V1142.2"/>
<path d="M650.1,1134.2 V1152.2"/>
<path d="M1095.2,1134.2 V1142.2"/>
<path d="M1540.4,1134.2 V1152.2"/>
</g>
<clipPath id="nofoot"><path d="M98,28 H174 V74 H131 V64.9 H119.85 V74 H115.1 V64.9 H104 V74 H98 Z"/></clipPath>
<text class="tick" x="169.8" y="1144.6" text-anchor="end">0.0</text>
<text class="tick" x="169.8" y="606.9" text-anchor="end">0.5</text>
<text class="tick" x="103.4 129.55 143.1" y="68.8" clip-path="url(#nofoot)">1.0</text>
<text class="tick" x="649.5" y="1203.5" text-anchor="middle">400</text>
<text class="tick" x="1541.2" y="1203.5" text-anchor="middle" style="letter-spacing:-1.5px">500</text>
<text class="title" x="872.6" y="1291" text-anchor="middle">Wavelength (nm)</text>
<text class="title" style="font-size:56px" transform="translate(79.8,593) rotate(-90)" text-anchor="middle">Normalized intensity</text>
</g>
</svg>
</body></html>
